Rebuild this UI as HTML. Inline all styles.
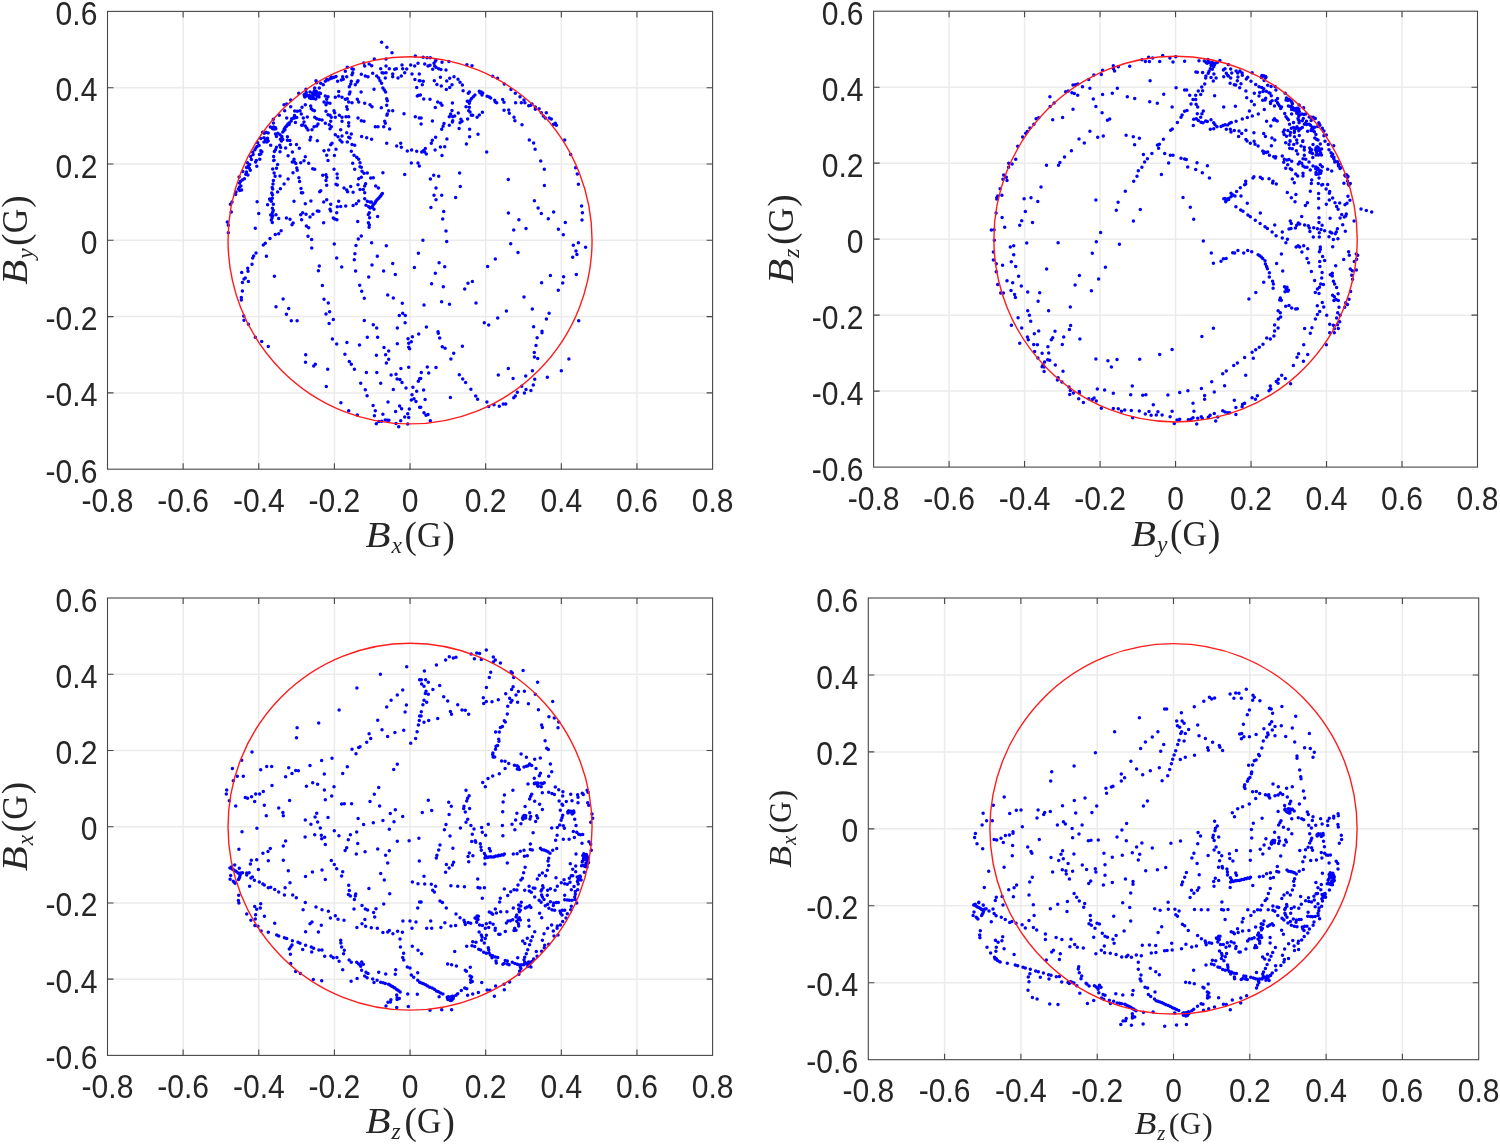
<!DOCTYPE html>
<html><head><meta charset="utf-8"><title>B field scatter</title>
<style>
html,body{margin:0;padding:0;background:#fff;}
svg{display:block;}
.t{font-family:"Liberation Sans",sans-serif;font-size:30.1px;fill:#262626;}
.m{font-family:"Liberation Serif",serif;fill:#262626;}
.g{stroke:#ebebeb;stroke-width:1.5;}
.a{stroke:#474747;stroke-width:1.1;fill:none;}
.c{stroke:#ff1c1c;stroke-width:1.4;fill:none;}
.d{fill:#0000ff;}
</style></head><body>
<svg width="1500" height="1144" viewBox="0 0 1500 1144">
<rect width="1500" height="1144" fill="#fff"/>

<g>
<line class="g" x1="183.14" x2="183.14" y1="11.40" y2="469.20"/>
<line class="g" x1="258.77" x2="258.77" y1="11.40" y2="469.20"/>
<line class="g" x1="334.41" x2="334.41" y1="11.40" y2="469.20"/>
<line class="g" x1="410.05" x2="410.05" y1="11.40" y2="469.20"/>
<line class="g" x1="485.69" x2="485.69" y1="11.40" y2="469.20"/>
<line class="g" x1="561.33" x2="561.33" y1="11.40" y2="469.20"/>
<line class="g" x1="636.96" x2="636.96" y1="11.40" y2="469.20"/>
<line class="g" x1="107.50" x2="712.60" y1="87.70" y2="87.70"/>
<line class="g" x1="107.50" x2="712.60" y1="164.00" y2="164.00"/>
<line class="g" x1="107.50" x2="712.60" y1="240.30" y2="240.30"/>
<line class="g" x1="107.50" x2="712.60" y1="316.60" y2="316.60"/>
<line class="g" x1="107.50" x2="712.60" y1="392.90" y2="392.90"/>
<path d="M381.6 42.3h.01M386.9 47.3h.01M392.0 52.7h.01M386.0 59.1h.01M374.3 59.1h.01M415.3 56.0h.01M363.7 63.1h.01M364.7 66.0h.01M369.1 64.0h.01M371.7 65.7h.01M380.7 68.7h.01M382.0 72.7h.01M386.0 66.0h.01M389.3 68.7h.01M386.0 72.7h.01M383.3 72.9h.01M394.7 69.3h.01M396.3 68.7h.01M402.0 64.9h.01M402.7 68.7h.01M406.7 68.9h.01M404.7 72.7h.01M401.3 76.0h.01M398.0 78.0h.01M392.7 74.0h.01M392.7 76.7h.01M410.7 64.9h.01M414.7 66.0h.01M418.0 63.3h.01M412.0 74.0h.01M419.3 74.0h.01M414.9 79.6h.01M419.3 80.7h.01M416.7 87.6h.01M418.7 95.3h.01M417.3 96.0h.01M376.7 76.0h.01M378.7 78.0h.01M380.0 80.7h.01M381.6 83.3h.01M382.9 88.0h.01M384.3 90.0h.01M385.6 92.0h.01M386.7 98.7h.01M387.3 100.7h.01M386.7 105.3h.01M388.7 110.7h.01M392.7 110.7h.01M387.3 114.0h.01M386.9 115.3h.01M384.7 121.3h.01M385.3 123.3h.01M383.7 126.7h.01M389.6 128.9h.01M375.3 126.7h.01M378.0 126.7h.01M381.3 107.7h.01M374.0 89.3h.01M372.7 73.3h.01M385.3 78.0h.01M361.3 74.3h.01M365.3 76.0h.01M368.0 76.7h.01M347.3 67.3h.01M345.3 71.3h.01M352.0 68.7h.01M353.3 69.3h.01M352.7 72.7h.01M352.0 74.7h.01M346.7 76.7h.01M342.7 76.7h.01M316.0 80.7h.01M316.7 82.7h.01M325.3 81.3h.01M328.0 80.0h.01M330.0 78.7h.01M332.0 78.0h.01M334.0 77.3h.01M336.0 76.4h.01M326.7 79.6h.01M331.3 76.9h.01M337.6 81.3h.01M341.3 80.0h.01M343.3 79.3h.01M351.3 81.3h.01M350.7 84.0h.01M349.3 86.7h.01M355.3 84.7h.01M357.3 82.0h.01M358.0 80.7h.01M314.7 88.0h.01M319.3 88.0h.01M320.7 83.3h.01M323.3 84.7h.01M310.0 91.9h.01M316.2 91.2h.01M314.0 93.8h.01M304.8 95.1h.01M304.5 94.5h.01M311.9 98.0h.01M306.1 92.6h.01M315.8 99.1h.01M314.8 94.1h.01M320.2 93.2h.01M309.7 97.9h.01M307.2 95.8h.01M316.0 93.9h.01M314.3 91.1h.01M316.8 94.4h.01M309.8 95.8h.01M312.4 93.3h.01M319.0 96.9h.01M308.4 95.7h.01M313.8 98.5h.01M317.7 93.1h.01M311.8 97.4h.01M306.7 95.0h.01M304.5 96.6h.01M318.4 95.7h.01M320.5 93.4h.01M317.1 95.9h.01M314.9 94.7h.01M312.8 96.6h.01M304.9 96.9h.01M319.5 93.1h.01M311.1 96.6h.01M304.2 94.7h.01M306.2 92.8h.01M311.2 98.4h.01M305.3 94.6h.01M298.7 93.3h.01M306.0 89.3h.01M338.7 91.6h.01M335.3 97.3h.01M338.7 96.0h.01M342.0 97.3h.01M345.3 99.3h.01M347.3 98.7h.01M348.7 102.0h.01M352.0 102.7h.01M350.0 92.0h.01M349.3 94.0h.01M361.1 92.0h.01M357.3 99.3h.01M358.7 102.0h.01M364.7 103.3h.01M370.0 104.7h.01M372.0 106.7h.01M324.0 102.0h.01M326.0 104.7h.01M327.3 102.7h.01M330.0 103.3h.01M326.7 99.3h.01M328.0 96.7h.01M325.3 96.0h.01M290.7 100.0h.01M284.0 104.7h.01M286.7 104.0h.01M290.7 106.7h.01M284.7 110.7h.01M305.3 104.7h.01M302.0 107.3h.01M300.0 110.7h.01M297.3 111.3h.01M294.7 111.1h.01M301.3 114.0h.01M310.7 106.0h.01M311.3 108.7h.01M312.7 110.0h.01M314.4 110.7h.01M326.0 111.3h.01M334.0 110.7h.01M334.7 112.7h.01M328.0 114.7h.01M330.0 115.3h.01M331.3 117.3h.01M335.3 117.3h.01M330.7 121.3h.01M329.3 124.7h.01M331.3 126.7h.01M330.0 128.7h.01M325.3 123.3h.01M346.7 106.7h.01M347.3 109.3h.01M339.3 115.3h.01M342.0 117.3h.01M346.0 116.7h.01M348.7 116.7h.01M342.0 121.3h.01M348.7 122.7h.01M348.7 126.0h.01M358.0 118.0h.01M361.3 120.7h.01M364.0 121.3h.01M307.3 116.9h.01M314.7 117.3h.01M316.7 118.7h.01M319.3 119.6h.01M322.0 120.0h.01M318.0 124.0h.01M316.7 126.0h.01M314.0 126.7h.01M312.0 129.7h.01M308.0 130.0h.01M306.7 128.0h.01M305.3 126.0h.01M302.7 124.9h.01M304.0 122.0h.01M303.3 118.0h.01M296.7 117.4h.01M294.5 118.1h.01M291.7 118.8h.01M294.5 115.4h.01M293.0 118.2h.01M286.7 118.0h.01M279.3 115.3h.01M273.3 119.3h.01M310.7 137.3h.01M310.0 140.0h.01M317.3 140.7h.01M340.7 129.7h.01M346.7 132.7h.01M351.3 134.0h.01M335.3 134.7h.01M338.0 136.7h.01M342.0 136.0h.01M348.7 137.3h.01M350.0 138.0h.01M340.0 140.0h.01M342.0 142.0h.01M347.3 142.0h.01M332.0 143.3h.01M330.7 144.7h.01M352.0 144.4h.01M354.7 145.3h.01M361.6 136.4h.01M366.7 137.7h.01M371.6 139.3h.01M324.0 150.7h.01M328.7 150.0h.01M336.0 149.3h.01M326.7 155.3h.01M334.4 155.6h.01M328.0 160.4h.01M351.3 151.3h.01M354.0 155.3h.01M356.7 157.3h.01M358.7 159.3h.01M360.0 162.7h.01M352.7 163.3h.01M360.0 166.7h.01M361.3 167.3h.01M354.7 169.3h.01M362.0 171.3h.01M364.0 173.3h.01M367.3 172.9h.01M361.3 177.3h.01M358.7 178.7h.01M370.7 178.0h.01M373.3 177.7h.01M305.3 156.7h.01M304.0 160.7h.01M308.7 163.3h.01M312.7 168.7h.01M314.7 169.3h.01M334.0 169.3h.01M322.7 175.3h.01M326.0 174.7h.01M326.7 177.3h.01M337.1 174.0h.01M337.3 178.0h.01M326.0 180.4h.01M386.7 143.3h.01M396.7 146.0h.01M400.7 143.3h.01M401.3 147.3h.01M407.3 151.1h.01M411.6 150.0h.01M416.7 151.3h.01M411.3 162.9h.01M418.0 162.9h.01M419.3 166.0h.01M404.7 174.4h.01M382.9 172.7h.01M404.0 113.7h.01M415.3 116.7h.01M419.3 118.0h.01M423.1 57.3h.01M427.1 57.7h.01M430.3 57.7h.01M436.0 60.0h.01M442.0 62.3h.01M448.9 61.6h.01M466.9 64.7h.01M472.0 65.7h.01M424.7 64.0h.01M428.0 66.0h.01M430.0 65.3h.01M434.0 63.3h.01M435.3 61.3h.01M434.7 66.0h.01M432.7 69.3h.01M436.0 67.3h.01M438.7 68.7h.01M440.9 69.5h.01M446.0 70.0h.01M420.0 80.7h.01M423.3 81.3h.01M422.3 84.7h.01M434.3 80.7h.01M436.9 84.4h.01M440.4 77.3h.01M441.3 86.0h.01M446.7 80.9h.01M449.7 78.3h.01M454.0 76.7h.01M458.0 79.3h.01M460.0 82.3h.01M462.4 84.9h.01M452.0 84.7h.01M449.7 87.6h.01M446.3 89.6h.01M463.1 90.7h.01M468.3 93.3h.01M469.3 92.0h.01M474.9 94.9h.01M473.3 96.7h.01M471.3 98.7h.01M470.0 100.7h.01M467.3 101.3h.01M469.3 103.3h.01M466.0 106.7h.01M469.3 107.3h.01M468.7 110.7h.01M470.0 112.0h.01M471.3 115.3h.01M472.7 115.3h.01M479.3 91.3h.01M481.3 92.0h.01M482.7 92.9h.01M482.0 95.1h.01M480.0 92.7h.01M487.1 96.3h.01M489.3 97.1h.01M490.7 98.0h.01M494.7 100.3h.01M495.3 102.0h.01M496.7 102.7h.01M502.7 99.6h.01M504.0 102.3h.01M504.0 110.3h.01M508.7 110.0h.01M509.3 113.3h.01M514.0 117.3h.01M514.9 120.7h.01M522.0 124.7h.01M492.7 76.3h.01M497.6 78.3h.01M504.3 84.0h.01M510.9 89.6h.01M515.3 93.3h.01M520.0 96.7h.01M524.0 100.0h.01M524.9 102.7h.01M521.3 102.7h.01M515.6 102.7h.01M528.7 105.7h.01M530.7 105.3h.01M532.0 104.0h.01M535.3 107.1h.01M535.3 109.3h.01M539.1 108.7h.01M541.3 112.7h.01M546.3 112.7h.01M543.3 116.0h.01M545.3 118.0h.01M549.3 118.0h.01M551.3 119.1h.01M553.3 124.4h.01M555.3 123.3h.01M556.4 125.3h.01M564.7 140.0h.01M570.7 154.4h.01M575.6 167.7h.01M577.3 174.0h.01M529.3 140.0h.01M533.6 143.1h.01M535.1 149.3h.01M540.7 161.1h.01M544.3 169.3h.01M508.3 179.6h.01M486.7 152.0h.01M478.0 134.3h.01M469.6 129.3h.01M469.6 136.7h.01M466.4 144.0h.01M459.1 128.4h.01M482.4 112.3h.01M479.3 114.9h.01M477.1 117.3h.01M452.4 103.1h.01M452.0 110.4h.01M458.3 112.9h.01M450.7 114.0h.01M449.3 116.7h.01M452.7 116.7h.01M454.7 116.0h.01M452.7 120.7h.01M452.4 122.0h.01M449.3 125.3h.01M460.9 119.3h.01M462.0 121.3h.01M460.0 122.7h.01M467.6 119.1h.01M437.7 102.0h.01M440.7 103.3h.01M442.0 105.3h.01M435.3 107.6h.01M420.4 94.9h.01M423.7 99.1h.01M430.0 99.3h.01M421.1 118.0h.01M421.1 124.0h.01M432.4 121.1h.01M444.0 123.6h.01M443.1 126.3h.01M441.7 129.3h.01M435.6 137.3h.01M432.3 140.3h.01M431.3 143.3h.01M446.9 139.1h.01M440.4 147.1h.01M444.7 146.7h.01M435.1 150.0h.01M442.0 155.6h.01M425.3 148.4h.01M423.3 150.7h.01M421.7 152.0h.01M424.7 152.0h.01M426.3 154.0h.01M433.7 175.3h.01M438.7 176.3h.01M430.4 179.1h.01M459.6 173.1h.01M232.0 202.0h.01M230.4 204.3h.01M231.3 212.0h.01M227.3 222.0h.01M228.3 225.3h.01M228.3 232.7h.01M257.1 201.7h.01M258.7 213.6h.01M255.3 228.3h.01M270.0 200.0h.01M271.3 201.3h.01M273.3 204.3h.01M267.6 204.7h.01M272.4 208.3h.01M272.7 212.0h.01M272.0 214.0h.01M272.7 216.0h.01M272.0 218.0h.01M271.3 220.0h.01M272.3 222.4h.01M276.0 214.7h.01M278.7 218.4h.01M270.7 214.9h.01M273.3 210.4h.01M302.7 192.7h.01M294.0 201.3h.01M305.3 203.7h.01M310.9 200.9h.01M320.7 190.7h.01M319.7 191.7h.01M326.7 185.3h.01M326.7 199.7h.01M323.7 202.0h.01M330.7 204.3h.01M330.0 209.3h.01M330.7 210.9h.01M336.0 184.3h.01M337.3 185.1h.01M344.0 188.0h.01M346.7 190.0h.01M347.6 191.7h.01M350.7 186.4h.01M353.1 192.3h.01M358.0 184.7h.01M360.0 189.6h.01M363.3 189.6h.01M364.7 186.0h.01M365.6 183.7h.01M364.7 192.7h.01M375.7 186.0h.01M378.4 188.0h.01M382.4 193.4h.01M381.5 194.6h.01M380.8 195.7h.01M380.1 196.4h.01M379.0 197.9h.01M378.3 198.5h.01M377.1 199.8h.01M376.2 200.7h.01M375.4 202.0h.01M374.9 203.2h.01M373.7 204.2h.01M373.1 205.0h.01M372.4 206.5h.01M371.2 207.6h.01M364.7 198.7h.01M367.3 201.3h.01M370.0 202.0h.01M371.3 202.0h.01M366.0 205.3h.01M368.7 206.7h.01M370.0 208.0h.01M374.0 209.3h.01M369.3 212.7h.01M368.3 214.4h.01M369.6 217.7h.01M377.6 216.4h.01M368.4 222.7h.01M369.3 224.7h.01M369.1 227.3h.01M358.7 201.1h.01M356.3 203.7h.01M353.1 205.6h.01M345.7 206.0h.01M340.7 206.4h.01M337.3 206.7h.01M338.7 201.3h.01M336.7 212.7h.01M333.3 218.0h.01M334.7 218.9h.01M336.9 219.7h.01M323.6 222.7h.01M317.3 210.9h.01M318.9 211.3h.01M312.9 214.3h.01M310.0 217.1h.01M306.0 214.3h.01M302.7 212.7h.01M300.7 214.7h.01M301.6 219.7h.01M286.4 218.0h.01M290.0 219.3h.01M293.1 222.9h.01M292.0 224.7h.01M306.4 226.0h.01M308.7 227.7h.01M308.0 236.3h.01M311.6 239.6h.01M311.7 248.0h.01M281.1 230.7h.01M278.7 233.7h.01M275.3 234.4h.01M270.0 238.4h.01M265.3 243.3h.01M263.3 244.9h.01M256.0 252.9h.01M253.6 256.0h.01M252.7 258.0h.01M252.0 264.3h.01M247.7 268.3h.01M248.0 271.3h.01M241.7 272.4h.01M245.3 278.0h.01M244.0 279.1h.01M242.4 282.4h.01M248.4 281.6h.01M242.4 290.9h.01M241.3 297.6h.01M241.3 300.0h.01M266.4 256.3h.01M274.4 276.3h.01M361.3 236.0h.01M358.3 238.9h.01M356.0 245.6h.01M354.9 253.7h.01M354.3 259.7h.01M355.6 270.9h.01M357.7 221.6h.01M334.3 244.0h.01M336.7 258.0h.01M341.7 267.1h.01M371.6 242.7h.01M386.3 245.7h.01M377.3 256.3h.01M372.0 264.9h.01M392.7 263.6h.01M383.6 270.9h.01M395.3 274.4h.01M368.7 276.9h.01M418.4 253.3h.01M414.4 267.6h.01M319.3 266.0h.01M318.4 270.7h.01M322.4 285.6h.01M324.0 299.3h.01M328.3 303.1h.01M329.6 311.7h.01M326.0 314.0h.01M333.3 319.6h.01M329.1 323.6h.01M359.7 285.3h.01M361.7 291.3h.01M364.3 298.3h.01M387.7 294.9h.01M393.3 298.0h.01M402.3 303.3h.01M402.7 313.3h.01M399.3 315.6h.01M405.3 315.6h.01M405.1 322.7h.01M397.3 328.0h.01M364.3 320.4h.01M373.3 324.7h.01M376.7 328.0h.01M283.1 299.1h.01M276.0 306.7h.01M288.7 308.4h.01M286.4 314.3h.01M291.3 320.7h.01M297.1 320.7h.01M243.7 316.0h.01M244.0 320.3h.01M248.4 324.3h.01M436.0 188.0h.01M460.3 186.4h.01M434.0 195.3h.01M441.7 195.3h.01M436.0 199.7h.01M455.6 197.6h.01M430.9 207.6h.01M443.7 211.6h.01M442.7 218.9h.01M446.0 230.9h.01M446.7 241.6h.01M422.9 240.3h.01M544.4 185.6h.01M578.4 184.3h.01M534.4 200.7h.01M538.1 208.0h.01M541.3 213.6h.01M553.6 212.0h.01M548.3 218.7h.01M565.3 222.4h.01M558.4 229.3h.01M563.3 234.7h.01M581.6 206.0h.01M582.4 212.7h.01M582.0 220.0h.01M508.4 212.9h.01M518.9 219.7h.01M513.7 229.9h.01M526.0 228.5h.01M510.7 243.7h.01M518.0 252.4h.01M495.3 258.9h.01M487.6 266.4h.01M578.4 242.7h.01M573.3 245.3h.01M585.6 247.3h.01M576.0 250.9h.01M576.9 254.4h.01M572.7 257.3h.01M576.3 274.4h.01M550.4 275.6h.01M563.6 276.7h.01M562.7 282.9h.01M541.6 282.7h.01M558.3 290.3h.01M524.0 296.9h.01M532.3 309.1h.01M549.1 313.3h.01M546.4 318.9h.01M533.6 326.7h.01M542.0 331.3h.01M578.7 320.7h.01M506.4 311.1h.01M497.7 318.0h.01M484.3 322.7h.01M488.7 325.1h.01M439.1 262.7h.01M444.7 266.7h.01M435.3 273.3h.01M431.6 283.7h.01M443.3 286.7h.01M464.7 289.1h.01M468.0 283.3h.01M472.4 281.6h.01M476.0 303.1h.01M441.6 301.7h.01M449.5 304.3h.01M424.0 305.1h.01M426.4 326.9h.01M438.0 331.7h.01M255.3 337.3h.01M261.7 341.6h.01M268.3 346.4h.01M305.7 354.7h.01M305.5 362.3h.01M315.3 364.3h.01M313.7 366.0h.01M327.7 369.3h.01M326.3 386.4h.01M332.4 339.1h.01M336.7 344.0h.01M346.9 342.4h.01M359.5 344.9h.01M367.3 337.3h.01M377.6 337.3h.01M344.9 354.3h.01M349.3 361.6h.01M351.3 364.3h.01M354.4 369.3h.01M366.4 372.4h.01M376.8 372.4h.01M376.4 355.3h.01M384.0 347.6h.01M388.7 351.1h.01M385.6 354.7h.01M388.7 359.3h.01M386.4 363.1h.01M397.3 343.7h.01M408.0 338.7h.01M412.4 336.7h.01M418.7 334.0h.01M408.7 343.3h.01M411.3 341.7h.01M408.7 347.3h.01M409.6 348.7h.01M400.9 368.4h.01M408.7 367.3h.01M391.1 374.9h.01M396.0 374.3h.01M397.1 379.1h.01M400.0 379.6h.01M402.0 382.4h.01M406.0 388.0h.01M393.3 389.6h.01M412.9 387.3h.01M416.7 391.3h.01M418.3 381.3h.01M419.6 378.7h.01M360.7 383.3h.01M365.3 389.7h.01M367.1 395.7h.01M380.7 383.3h.01M412.0 394.7h.01M411.3 400.0h.01M414.0 398.7h.01M416.0 401.6h.01M419.6 407.3h.01M388.0 402.0h.01M373.1 405.6h.01M375.3 410.7h.01M374.4 415.7h.01M382.9 414.3h.01M395.6 411.6h.01M399.6 406.0h.01M401.6 408.7h.01M409.3 409.1h.01M407.7 413.7h.01M404.7 416.9h.01M408.7 417.6h.01M400.7 420.7h.01M340.9 402.7h.01M348.7 410.7h.01M357.3 415.1h.01M376.3 423.7h.01M378.9 421.6h.01M381.7 421.3h.01M385.3 420.0h.01M387.3 420.3h.01M388.9 420.3h.01M396.0 423.6h.01M398.7 426.7h.01M407.7 424.0h.01M438.3 333.3h.01M439.7 338.0h.01M442.3 346.7h.01M445.1 348.3h.01M462.4 346.3h.01M453.7 353.3h.01M450.9 359.1h.01M427.3 366.9h.01M436.0 367.6h.01M428.7 373.1h.01M421.3 372.4h.01M420.7 378.4h.01M423.6 390.1h.01M425.1 399.6h.01M420.7 407.3h.01M424.0 412.7h.01M426.0 415.3h.01M428.0 414.4h.01M430.3 420.7h.01M459.3 374.7h.01M462.7 379.1h.01M465.6 382.4h.01M470.9 389.3h.01M475.7 396.0h.01M477.6 399.3h.01M450.4 397.6h.01M486.9 402.0h.01M488.7 406.4h.01M494.0 404.7h.01M499.3 406.3h.01M503.3 404.0h.01M505.7 404.0h.01M498.3 375.1h.01M508.3 368.4h.01M513.1 378.4h.01M513.7 397.7h.01M515.3 396.0h.01M517.3 392.3h.01M521.7 386.3h.01M524.4 393.1h.01M526.0 389.6h.01M530.9 390.4h.01M533.3 384.9h.01M534.7 379.3h.01M525.7 376.0h.01M532.4 370.7h.01M542.0 332.7h.01M537.1 337.7h.01M536.0 345.5h.01M534.3 352.4h.01M534.4 357.1h.01M537.7 358.4h.01M547.3 377.3h.01M561.3 370.7h.01M568.9 359.1h.01M273.4 123.1h.01M295.4 122.4h.01M301.7 125.2h.01M270.3 127.0h.01M272.0 127.7h.01M273.7 127.0h.01M275.5 127.7h.01M274.4 129.1h.01M275.8 128.7h.01M272.7 128.7h.01M291.2 121.0h.01M289.5 122.8h.01M288.1 123.8h.01M287.0 125.6h.01M285.3 127.3h.01M284.2 129.1h.01M283.9 130.8h.01M282.8 131.9h.01M289.1 124.5h.01M286.3 126.6h.01M284.9 129.8h.01M277.9 133.3h.01M275.5 134.0h.01M276.5 136.4h.01M280.0 134.7h.01M281.8 136.4h.01M282.1 138.5h.01M280.4 139.2h.01M281.4 141.0h.01M282.8 139.6h.01M262.6 132.2h.01M264.3 133.3h.01M266.1 132.2h.01M268.2 132.9h.01M260.8 138.5h.01M264.0 137.8h.01M267.5 138.2h.01M265.7 139.9h.01M264.0 142.0h.01M266.8 142.0h.01M268.2 141.0h.01M270.7 145.2h.01M287.4 136.8h.01M287.4 140.3h.01M289.8 140.6h.01M290.5 144.5h.01M296.5 144.5h.01M299.3 148.3h.01M285.6 148.0h.01M292.4 152.0h.01M288.1 155.7h.01M279.7 145.2h.01M280.7 147.6h.01M276.5 147.3h.01M275.5 149.7h.01M274.4 151.5h.01M280.0 151.8h.01M273.6 156.4h.01M274.1 160.2h.01M273.7 160.6h.01M277.6 164.4h.01M276.5 168.3h.01M272.7 169.0h.01M274.1 173.1h.01M275.1 176.3h.01M280.0 175.9h.01M273.4 180.5h.01M273.0 184.0h.01M272.2 187.5h.01M272.7 188.9h.01M271.7 193.1h.01M272.5 194.8h.01M272.3 198.3h.01M269.6 199.0h.01M294.0 159.2h.01M292.3 162.0h.01M294.7 162.3h.01M295.8 163.4h.01M300.7 162.7h.01M296.8 167.9h.01M297.2 170.3h.01M293.0 172.8h.01M298.9 177.7h.01M299.6 181.5h.01M288.1 179.1h.01M284.1 184.0h.01M280.4 188.7h.01M277.6 192.0h.01M301.0 188.5h.01M301.4 192.7h.01M257.7 142.7h.01M259.1 145.5h.01M257.0 146.6h.01M255.9 148.0h.01M254.9 149.7h.01M252.8 152.2h.01M253.1 154.6h.01M250.7 156.4h.01M251.4 159.5h.01M260.8 150.8h.01M261.9 151.8h.01M260.8 153.9h.01M259.4 154.6h.01M259.8 159.2h.01M256.3 160.6h.01M255.6 162.0h.01M256.8 166.2h.01M247.5 162.7h.01M249.6 164.4h.01M248.2 166.2h.01M246.5 167.6h.01M249.3 168.3h.01M250.3 170.3h.01M246.5 172.1h.01M245.8 174.2h.01M247.9 174.9h.01M242.8 171.5h.01M239.1 177.0h.01M244.4 178.7h.01M242.3 180.1h.01M240.5 181.5h.01M239.5 182.9h.01M240.9 186.1h.01M239.5 187.1h.01M238.4 188.9h.01M239.8 190.6h.01M241.6 189.9h.01M236.0 192.0h.01M235.6 194.5h.01" stroke="#0000ff" stroke-width="3.5" stroke-linecap="round" fill="none"/>
<ellipse class="c" cx="410.05" cy="240.30" rx="182.02" ry="183.62"/>
<rect class="a" x="107.50" y="11.40" width="605.10" height="457.80"/>
<path class="a" d="M183.14 469.20v-6.0M183.14 11.40v6.0"/>
<path class="a" d="M258.77 469.20v-6.0M258.77 11.40v6.0"/>
<path class="a" d="M334.41 469.20v-6.0M334.41 11.40v6.0"/>
<path class="a" d="M410.05 469.20v-6.0M410.05 11.40v6.0"/>
<path class="a" d="M485.69 469.20v-6.0M485.69 11.40v6.0"/>
<path class="a" d="M561.33 469.20v-6.0M561.33 11.40v6.0"/>
<path class="a" d="M636.96 469.20v-6.0M636.96 11.40v6.0"/>
<path class="a" d="M107.50 87.70h6.0M712.60 87.70h-6.0"/>
<path class="a" d="M107.50 164.00h6.0M712.60 164.00h-6.0"/>
<path class="a" d="M107.50 240.30h6.0M712.60 240.30h-6.0"/>
<path class="a" d="M107.50 316.60h6.0M712.60 316.60h-6.0"/>
<path class="a" d="M107.50 392.90h6.0M712.60 392.90h-6.0"/>
<text class="t" text-anchor="middle" transform="translate(107.5 511.7) scale(1 1.12)">-0.8</text>
<text class="t" text-anchor="middle" transform="translate(183.1 511.7) scale(1 1.12)">-0.6</text>
<text class="t" text-anchor="middle" transform="translate(258.8 511.7) scale(1 1.12)">-0.4</text>
<text class="t" text-anchor="middle" transform="translate(334.4 511.7) scale(1 1.12)">-0.2</text>
<text class="t" text-anchor="middle" transform="translate(410.1 511.7) scale(1 1.12)">0</text>
<text class="t" text-anchor="middle" transform="translate(485.7 511.7) scale(1 1.12)">0.2</text>
<text class="t" text-anchor="middle" transform="translate(561.3 511.7) scale(1 1.12)">0.4</text>
<text class="t" text-anchor="middle" transform="translate(637.0 511.7) scale(1 1.12)">0.6</text>
<text class="t" text-anchor="middle" transform="translate(712.6 511.7) scale(1 1.12)">0.8</text>
<text class="t" text-anchor="end" transform="translate(97.4 24.9) scale(1 1.12)">0.6</text>
<text class="t" text-anchor="end" transform="translate(97.4 101.2) scale(1 1.12)">0.4</text>
<text class="t" text-anchor="end" transform="translate(97.4 177.5) scale(1 1.12)">0.2</text>
<text class="t" text-anchor="end" transform="translate(97.4 253.8) scale(1 1.12)">0</text>
<text class="t" text-anchor="end" transform="translate(97.4 330.1) scale(1 1.12)">-0.2</text>
<text class="t" text-anchor="end" transform="translate(97.4 406.4) scale(1 1.12)">-0.4</text>
<text class="t" text-anchor="end" transform="translate(97.4 482.7) scale(1 1.12)">-0.6</text>
<g transform="translate(410.1 546.9) scale(1.000)"><text class="m" x="-44.5" y="0.0" font-size="35" font-style="italic" textLength="25" lengthAdjust="spacingAndGlyphs">B</text><text class="m" x="-18.5" y="6.0" font-size="23.5" font-style="italic">x</text><text class="m" x="-5.5" y="0.6" font-size="37">(</text><text class="m" x="7.0" y="0.0" font-size="35" textLength="24.5" lengthAdjust="spacingAndGlyphs">G</text><text class="m" x="32.5" y="0.6" font-size="37">)</text></g>
<g transform="translate(27.3 240.3) rotate(-90)"><g transform="translate(0.0 0.0) scale(1.000)"><text class="m" x="-44.5" y="0.0" font-size="35" font-style="italic" textLength="25" lengthAdjust="spacingAndGlyphs">B</text><text class="m" x="-18.5" y="6.0" font-size="23.5" font-style="italic">y</text><text class="m" x="-5.5" y="0.6" font-size="37">(</text><text class="m" x="7.0" y="0.0" font-size="35" textLength="24.5" lengthAdjust="spacingAndGlyphs">G</text><text class="m" x="32.5" y="0.6" font-size="37">)</text></g></g>
</g>
<g>
<line class="g" x1="949.09" x2="949.09" y1="11.20" y2="467.10"/>
<line class="g" x1="1024.58" x2="1024.58" y1="11.20" y2="467.10"/>
<line class="g" x1="1100.06" x2="1100.06" y1="11.20" y2="467.10"/>
<line class="g" x1="1175.55" x2="1175.55" y1="11.20" y2="467.10"/>
<line class="g" x1="1251.04" x2="1251.04" y1="11.20" y2="467.10"/>
<line class="g" x1="1326.53" x2="1326.53" y1="11.20" y2="467.10"/>
<line class="g" x1="1402.01" x2="1402.01" y1="11.20" y2="467.10"/>
<line class="g" x1="873.60" x2="1477.50" y1="87.18" y2="87.18"/>
<line class="g" x1="873.60" x2="1477.50" y1="163.17" y2="163.17"/>
<line class="g" x1="873.60" x2="1477.50" y1="239.15" y2="239.15"/>
<line class="g" x1="873.60" x2="1477.50" y1="315.13" y2="315.13"/>
<line class="g" x1="873.60" x2="1477.50" y1="391.12" y2="391.12"/>
<path d="M1003.7 175.1h.01M1006.3 177.3h.01M1003.0 179.3h.01M1007.0 180.4h.01M1008.7 163.3h.01M1012.1 164.0h.01M1008.6 167.3h.01M1015.7 159.3h.01M1017.7 146.3h.01M1022.6 136.9h.01M1025.7 133.3h.01M1027.3 131.6h.01M1029.9 128.0h.01M1033.9 124.3h.01M1036.1 118.7h.01M1038.7 117.7h.01M1050.1 106.4h.01M1054.1 102.9h.01M1049.9 96.7h.01M1065.7 91.7h.01M1068.3 91.1h.01M1071.9 92.7h.01M1074.3 93.6h.01M1077.7 95.3h.01M1073.0 85.1h.01M1075.4 84.7h.01M1077.9 84.0h.01M1082.5 86.7h.01M1089.9 88.3h.01M1088.7 79.6h.01M1093.9 74.9h.01M1101.3 74.4h.01M1102.6 70.3h.01M1113.3 65.7h.01M1113.4 68.7h.01M1114.6 70.9h.01M1118.3 66.7h.01M1129.7 66.3h.01M1141.9 59.7h.01M1145.4 61.6h.01M1149.4 61.6h.01M1148.6 57.3h.01M1152.6 58.0h.01M1159.7 61.6h.01M1162.7 55.6h.01M1169.9 58.0h.01M1173.0 62.0h.01M1175.7 56.7h.01M1184.6 61.3h.01M1150.1 80.7h.01M1176.1 87.7h.01M1184.6 90.0h.01M1163.7 94.3h.01M1149.7 101.7h.01M1157.3 103.3h.01M1172.1 106.9h.01M1117.3 88.3h.01M1112.3 93.3h.01M1102.6 94.4h.01M1093.3 98.9h.01M1095.9 106.4h.01M1102.1 112.7h.01M1109.7 118.9h.01M1107.4 120.3h.01M1127.3 96.7h.01M1134.7 98.4h.01M1073.0 109.3h.01M1062.6 117.6h.01M1052.7 119.7h.01M1089.9 131.3h.01M1097.7 137.3h.01M1103.3 136.0h.01M1079.0 139.1h.01M1084.3 143.1h.01M1071.4 150.7h.01M1064.5 157.1h.01M1059.9 162.4h.01M1058.5 165.3h.01M1046.5 165.3h.01M1126.1 135.3h.01M1133.3 136.7h.01M1139.4 138.3h.01M1134.6 144.7h.01M1184.6 111.3h.01M1182.1 114.9h.01M1181.0 117.3h.01M1177.4 122.4h.01M1172.3 128.9h.01M1170.7 130.3h.01M1163.4 139.3h.01M1159.4 144.3h.01M1157.4 144.9h.01M1158.6 148.3h.01M1151.9 153.6h.01M1147.4 158.7h.01M1144.6 162.0h.01M1141.9 167.3h.01M1138.3 170.7h.01M1137.0 176.3h.01M1133.7 181.3h.01M1143.4 154.4h.01M1164.7 153.6h.01M1170.3 155.3h.01M1173.0 155.3h.01M1181.0 158.3h.01M1184.6 159.1h.01M1168.6 162.9h.01M1161.4 174.4h.01M1199.0 60.7h.01M1204.3 60.9h.01M1207.9 59.6h.01M1219.9 60.4h.01M1228.3 64.4h.01M1213.7 66.7h.01M1210.3 68.7h.01M1212.3 69.3h.01M1209.0 71.3h.01M1208.3 73.3h.01M1210.8 63.5h.01M1207.1 63.3h.01M1212.6 62.8h.01M1207.6 62.7h.01M1213.2 63.3h.01M1214.3 63.7h.01M1206.2 62.5h.01M1208.8 61.8h.01M1211.1 65.6h.01M1217.3 62.4h.01M1213.4 64.6h.01M1215.2 63.2h.01M1214.4 65.0h.01M1211.6 62.8h.01M1195.9 72.0h.01M1197.3 72.3h.01M1202.6 72.4h.01M1205.9 76.0h.01M1205.7 78.0h.01M1211.0 77.6h.01M1216.1 78.0h.01M1213.3 81.1h.01M1213.9 74.0h.01M1204.7 84.0h.01M1201.7 86.9h.01M1198.3 90.9h.01M1202.6 90.7h.01M1200.7 94.4h.01M1195.7 95.3h.01M1189.7 95.3h.01M1193.0 99.6h.01M1195.7 99.6h.01M1191.0 104.0h.01M1196.1 104.3h.01M1197.7 107.1h.01M1203.3 110.9h.01M1201.9 113.7h.01M1197.3 113.7h.01M1200.7 117.3h.01M1196.3 118.7h.01M1193.7 119.3h.01M1198.3 120.4h.01M1201.0 122.3h.01M1203.0 122.7h.01M1205.7 121.1h.01M1207.3 121.6h.01M1193.3 125.6h.01M1186.6 90.0h.01M1187.0 110.4h.01M1214.6 95.7h.01M1223.7 106.9h.01M1235.4 106.3h.01M1225.0 68.7h.01M1223.4 70.0h.01M1226.3 73.3h.01M1227.7 75.3h.01M1230.7 69.1h.01M1231.7 72.9h.01M1223.7 76.7h.01M1228.3 76.0h.01M1230.7 78.0h.01M1230.1 83.3h.01M1234.3 84.7h.01M1235.7 85.1h.01M1236.1 70.9h.01M1237.7 72.9h.01M1239.9 71.1h.01M1242.1 72.9h.01M1242.3 75.3h.01M1237.9 76.9h.01M1237.3 80.7h.01M1241.0 83.7h.01M1239.7 87.7h.01M1247.7 77.3h.01M1246.3 79.1h.01M1251.0 81.3h.01M1252.1 72.7h.01M1255.7 84.4h.01M1264.1 80.5h.01M1261.9 75.4h.01M1263.9 76.1h.01M1262.3 76.5h.01M1265.6 76.4h.01M1263.7 75.7h.01M1265.4 78.1h.01M1261.3 77.6h.01M1266.0 77.3h.01M1259.0 86.7h.01M1261.7 87.6h.01M1263.7 88.7h.01M1259.7 92.4h.01M1263.0 91.6h.01M1266.3 91.3h.01M1269.0 92.7h.01M1259.0 96.0h.01M1254.3 93.3h.01M1245.9 90.9h.01M1246.7 97.7h.01M1251.4 101.3h.01M1254.3 104.7h.01M1249.4 110.9h.01M1252.3 116.0h.01M1258.3 114.0h.01M1264.3 109.6h.01M1265.7 98.3h.01M1262.7 100.3h.01M1265.0 100.0h.01M1267.7 85.3h.01M1266.6 121.3h.01M1231.3 122.4h.01M1236.1 121.3h.01M1242.3 119.1h.01M1247.3 117.6h.01M1211.0 119.7h.01M1213.7 122.7h.01M1215.0 124.7h.01M1217.0 126.7h.01M1221.0 126.4h.01M1223.0 125.6h.01M1225.0 124.7h.01M1227.7 124.9h.01M1229.7 123.3h.01M1226.3 129.3h.01M1230.3 129.3h.01M1231.0 132.0h.01M1234.3 130.4h.01M1239.0 130.9h.01M1241.7 133.6h.01M1238.6 136.4h.01M1245.9 130.3h.01M1213.7 128.7h.01M1210.3 129.3h.01M1253.9 132.7h.01M1263.7 133.6h.01M1265.4 136.4h.01M1271.4 145.7h.01M1245.9 139.6h.01M1247.0 141.1h.01M1250.3 143.3h.01M1254.1 141.3h.01M1255.0 144.3h.01M1258.1 146.0h.01M1262.7 151.1h.01M1264.3 152.0h.01M1266.3 152.4h.01M1263.7 153.3h.01M1267.7 152.0h.01M1269.4 155.3h.01M1273.7 156.7h.01M1275.4 158.0h.01M1275.7 156.7h.01M1282.3 156.0h.01M1284.3 159.3h.01M1283.7 162.3h.01M1287.0 160.0h.01M1289.0 159.6h.01M1291.7 161.3h.01M1287.7 164.7h.01M1285.7 168.3h.01M1290.3 168.7h.01M1291.7 169.7h.01M1297.0 143.1h.01M1293.7 144.4h.01M1290.1 141.3h.01M1285.7 142.7h.01M1289.0 144.4h.01M1302.7 141.6h.01M1301.0 146.0h.01M1304.3 147.3h.01M1304.3 150.0h.01M1296.3 150.7h.01M1292.3 148.7h.01M1289.7 148.3h.01M1297.7 154.0h.01M1304.3 155.3h.01M1303.0 158.7h.01M1305.7 159.3h.01M1309.0 162.0h.01M1299.7 162.0h.01M1298.3 164.0h.01M1301.7 163.3h.01M1303.0 166.0h.01M1305.0 167.3h.01M1307.0 167.3h.01M1310.3 170.0h.01M1313.0 166.0h.01M1320.3 144.0h.01M1313.0 144.4h.01M1309.7 148.0h.01M1310.7 149.9h.01M1319.4 149.1h.01M1316.3 151.3h.01M1316.1 154.9h.01M1319.9 154.1h.01M1318.2 147.6h.01M1311.6 149.7h.01M1319.6 150.3h.01M1317.2 146.8h.01M1310.5 149.9h.01M1318.6 155.0h.01M1318.7 150.2h.01M1316.6 152.2h.01M1315.9 148.1h.01M1321.6 149.1h.01M1309.9 152.2h.01M1315.7 149.9h.01M1312.5 153.6h.01M1311.6 153.0h.01M1320.6 152.8h.01M1321.5 155.1h.01M1312.8 157.4h.01M1325.0 141.3h.01M1328.3 144.4h.01M1333.7 145.7h.01M1329.0 149.7h.01M1331.0 152.7h.01M1331.7 156.0h.01M1332.7 154.2h.01M1332.2 156.5h.01M1333.9 157.3h.01M1333.8 158.7h.01M1334.9 161.1h.01M1334.8 162.1h.01M1337.5 161.8h.01M1338.4 164.4h.01M1339.1 164.6h.01M1338.5 166.0h.01M1340.8 167.7h.01M1340.0 168.5h.01M1327.7 169.3h.01M1331.7 170.9h.01M1320.3 164.7h.01M1322.3 166.7h.01M1316.0 174.2h.01M1315.7 168.8h.01M1317.8 168.2h.01M1316.7 174.3h.01M1320.7 173.2h.01M1318.7 174.0h.01M1321.2 171.1h.01M1319.5 170.3h.01M1319.7 171.8h.01M1316.0 167.1h.01M1317.4 169.4h.01M1316.0 172.6h.01M1348.0 176.4h.01M1347.4 177.2h.01M1344.8 175.3h.01M1347.0 175.8h.01M1346.7 175.1h.01M1345.9 174.7h.01M1345.3 176.1h.01M1347.5 181.1h.01M1295.7 174.0h.01M1297.7 176.0h.01M1303.0 173.3h.01M1303.0 176.0h.01M1292.3 179.1h.01M1311.7 180.0h.01M1319.0 178.0h.01M1253.9 176.7h.01M1253.0 178.0h.01M1260.3 177.3h.01M1262.3 178.7h.01M1269.0 178.7h.01M1245.7 181.3h.01M1273.0 181.3h.01M1186.3 159.6h.01M1197.0 162.7h.01M1187.7 167.1h.01M1195.7 169.6h.01M1207.4 165.7h.01M1202.3 172.7h.01M1209.4 178.0h.01M1000.1 188.7h.01M1001.9 195.3h.01M997.7 196.0h.01M996.7 197.7h.01M996.7 199.1h.01M996.1 212.9h.01M1002.1 217.6h.01M1004.7 227.3h.01M991.3 230.0h.01M994.1 229.7h.01M994.3 240.3h.01M993.4 252.0h.01M993.4 260.0h.01M996.3 263.7h.01M1002.6 265.3h.01M996.3 271.7h.01M997.7 284.4h.01M1000.7 292.9h.01M1003.4 293.1h.01M1041.0 187.1h.01M1024.1 198.7h.01M1031.0 197.7h.01M1037.8 201.5h.01M1025.3 211.5h.01M1021.7 220.7h.01M1019.7 225.3h.01M1032.5 222.4h.01M1010.3 246.9h.01M1013.7 245.7h.01M1013.7 254.7h.01M1011.3 261.7h.01M1015.7 266.4h.01M1026.7 243.1h.01M1058.1 242.8h.01M1046.6 269.1h.01M1018.6 276.3h.01M1007.0 280.7h.01M1012.7 282.7h.01M1021.3 286.0h.01M1011.0 290.4h.01M1014.6 294.4h.01M1015.4 297.6h.01M1027.7 292.0h.01M1039.7 292.7h.01M1038.1 301.3h.01M1027.7 310.7h.01M1029.4 315.3h.01M1030.7 321.3h.01M1018.1 317.7h.01M1011.4 325.3h.01M1021.7 328.0h.01M1038.7 330.9h.01M1034.3 333.7h.01M1048.6 310.8h.01M1055.0 331.3h.01M1070.3 307.1h.01M1070.6 325.6h.01M1069.4 329.6h.01M1095.9 200.0h.01M1125.3 191.3h.01M1118.1 202.3h.01M1116.3 210.3h.01M1140.3 209.6h.01M1133.4 221.1h.01M1183.0 197.6h.01M1100.6 232.4h.01M1096.3 241.7h.01M1119.4 244.3h.01M1092.3 253.3h.01M1105.4 267.3h.01M1098.6 278.9h.01M1091.4 290.7h.01M1079.4 275.6h.01M1075.1 284.9h.01M1245.7 184.0h.01M1244.6 184.7h.01M1240.3 187.7h.01M1236.6 191.6h.01M1231.0 193.3h.01M1233.0 195.1h.01M1235.0 196.0h.01M1241.0 196.0h.01M1231.0 196.7h.01M1227.8 199.3h.01M1225.8 199.8h.01M1225.6 199.0h.01M1223.8 198.7h.01M1226.4 200.4h.01M1228.5 198.4h.01M1225.0 198.5h.01M1225.7 199.5h.01M1228.7 199.6h.01M1225.7 201.8h.01M1247.3 203.3h.01M1235.9 206.7h.01M1240.7 210.0h.01M1243.0 211.3h.01M1247.9 214.9h.01M1250.3 216.7h.01M1255.3 220.3h.01M1260.1 223.6h.01M1265.0 226.7h.01M1267.4 228.4h.01M1272.1 232.0h.01M1276.1 235.7h.01M1282.3 238.0h.01M1287.4 239.3h.01M1285.9 242.7h.01M1282.3 232.0h.01M1274.7 224.9h.01M1260.3 212.9h.01M1190.3 207.3h.01M1193.7 219.3h.01M1203.3 241.1h.01M1211.3 252.9h.01M1213.4 263.3h.01M1221.0 261.3h.01M1223.4 258.7h.01M1226.1 258.4h.01M1232.7 252.7h.01M1234.6 253.1h.01M1237.9 250.4h.01M1243.7 252.9h.01M1247.7 250.4h.01M1251.7 251.7h.01M1258.1 254.7h.01M1259.7 255.7h.01M1261.3 257.1h.01M1262.7 258.4h.01M1265.0 260.7h.01M1265.4 264.0h.01M1266.6 266.4h.01M1267.4 268.7h.01M1269.4 272.7h.01M1269.3 276.9h.01M1272.6 281.3h.01M1273.4 284.0h.01M1273.1 288.3h.01M1263.7 282.3h.01M1255.8 292.5h.01M1248.9 298.9h.01M1281.4 254.0h.01M1276.6 263.6h.01M1282.7 270.9h.01M1272.6 183.1h.01M1276.3 184.0h.01M1294.3 182.7h.01M1311.3 183.6h.01M1318.3 183.6h.01M1321.7 184.9h.01M1322.7 184.4h.01M1327.7 184.4h.01M1326.1 188.9h.01M1329.7 191.6h.01M1329.3 193.3h.01M1332.6 198.0h.01M1329.3 200.0h.01M1326.3 204.3h.01M1343.9 183.3h.01M1348.3 184.0h.01M1350.3 183.6h.01M1349.0 185.3h.01M1287.3 192.4h.01M1291.3 197.7h.01M1295.9 194.4h.01M1295.0 201.7h.01M1310.3 191.3h.01M1307.4 202.7h.01M1305.4 205.6h.01M1318.6 193.6h.01M1318.6 198.4h.01M1318.7 208.0h.01M1319.0 217.7h.01M1319.0 222.4h.01M1322.1 225.3h.01M1347.9 196.3h.01M1349.9 200.3h.01M1347.0 203.3h.01M1345.0 204.7h.01M1339.7 202.9h.01M1335.0 202.7h.01M1336.6 206.4h.01M1338.1 209.3h.01M1361.0 209.1h.01M1366.3 210.4h.01M1371.7 212.0h.01M1341.7 214.4h.01M1346.3 214.0h.01M1345.7 216.0h.01M1344.3 216.9h.01M1340.1 218.0h.01M1330.1 218.3h.01M1354.1 221.1h.01M1342.7 224.7h.01M1337.4 228.7h.01M1336.3 232.0h.01M1335.3 233.7h.01M1345.3 231.3h.01M1301.7 216.4h.01M1290.3 221.1h.01M1291.3 223.6h.01M1298.3 223.1h.01M1299.7 224.0h.01M1296.7 225.3h.01M1295.4 228.0h.01M1291.0 228.4h.01M1289.0 229.1h.01M1304.6 224.9h.01M1308.3 225.7h.01M1309.3 228.0h.01M1309.9 231.6h.01M1313.7 227.7h.01M1317.4 228.7h.01M1321.0 229.6h.01M1324.6 230.7h.01M1319.3 232.7h.01M1330.1 232.0h.01M1331.7 233.1h.01M1329.0 236.7h.01M1333.4 239.6h.01M1337.9 238.7h.01M1319.3 237.1h.01M1313.3 236.9h.01M1332.7 246.7h.01M1320.3 246.9h.01M1320.3 249.3h.01M1319.4 251.7h.01M1322.6 256.4h.01M1324.6 260.4h.01M1319.7 261.6h.01M1319.9 266.4h.01M1322.1 272.4h.01M1321.7 278.0h.01M1320.7 284.0h.01M1323.4 284.4h.01M1319.4 287.3h.01M1317.4 289.1h.01M1315.3 292.4h.01M1319.0 293.6h.01M1311.4 271.6h.01M1314.6 280.4h.01M1296.1 246.9h.01M1298.1 245.7h.01M1299.7 246.9h.01M1303.7 245.7h.01M1307.7 248.7h.01M1301.9 252.0h.01M1307.0 258.4h.01M1308.6 262.7h.01M1348.6 251.7h.01M1349.3 255.3h.01M1343.7 259.6h.01M1335.7 265.7h.01M1356.3 254.0h.01M1357.7 255.3h.01M1356.6 259.3h.01M1354.3 261.6h.01M1350.3 269.1h.01M1352.3 270.7h.01M1356.3 270.0h.01M1351.7 275.3h.01M1352.6 279.3h.01M1350.6 291.6h.01M1349.0 299.3h.01M1347.4 304.4h.01M1345.7 302.7h.01M1344.7 307.3h.01M1330.3 274.7h.01M1332.3 273.3h.01M1332.3 276.0h.01M1333.4 281.3h.01M1334.6 284.0h.01M1336.6 287.6h.01M1338.1 293.7h.01M1332.6 295.3h.01M1334.3 296.7h.01M1333.9 300.4h.01M1336.1 299.6h.01M1338.3 300.4h.01M1339.0 307.3h.01M1337.7 312.7h.01M1340.1 315.3h.01M1336.6 318.0h.01M1339.7 321.7h.01M1329.7 324.3h.01M1333.4 325.3h.01M1337.4 324.7h.01M1334.3 328.7h.01M1338.3 328.4h.01M1329.7 332.7h.01M1334.3 332.7h.01M1322.3 302.4h.01M1317.3 305.7h.01M1323.7 306.9h.01M1319.7 311.6h.01M1317.4 314.4h.01M1315.4 319.1h.01M1326.7 315.3h.01M1311.9 327.7h.01M1304.6 328.4h.01M1310.3 333.3h.01M1287.9 291.3h.01M1286.4 290.0h.01M1288.5 290.3h.01M1287.0 290.6h.01M1286.1 289.1h.01M1285.0 291.8h.01M1287.0 287.2h.01M1284.5 286.8h.01M1287.0 290.1h.01M1280.3 298.0h.01M1279.7 300.0h.01M1281.3 300.3h.01M1285.7 306.3h.01M1289.0 305.6h.01M1291.7 308.0h.01M1295.7 309.1h.01M1297.3 308.7h.01M1278.1 310.7h.01M1280.3 312.7h.01M1280.7 316.9h.01M1278.3 318.9h.01M1274.6 325.1h.01M1278.1 328.0h.01M1274.6 331.1h.01M1213.4 328.3h.01M1027.4 337.1h.01M1028.3 339.7h.01M1019.7 343.3h.01M1033.7 344.4h.01M1037.4 344.7h.01M1034.6 351.6h.01M1037.9 358.0h.01M1042.1 353.3h.01M1047.9 346.7h.01M1048.7 352.9h.01M1051.3 339.7h.01M1052.7 337.7h.01M1063.7 336.9h.01M1062.3 344.4h.01M1079.9 339.1h.01M1044.6 362.0h.01M1047.7 359.7h.01M1049.7 360.3h.01M1043.0 364.9h.01M1042.1 366.7h.01M1044.1 366.9h.01M1044.1 371.6h.01M1055.3 364.9h.01M1063.0 371.3h.01M1058.1 377.7h.01M1057.4 380.0h.01M1061.9 382.0h.01M1069.0 386.9h.01M1070.3 390.4h.01M1069.7 394.4h.01M1073.4 393.1h.01M1079.3 391.6h.01M1079.4 393.1h.01M1078.7 398.7h.01M1083.4 402.4h.01M1088.7 398.7h.01M1092.3 399.6h.01M1094.1 398.0h.01M1096.3 401.1h.01M1101.3 408.3h.01M1095.9 359.1h.01M1107.9 360.7h.01M1111.4 367.1h.01M1117.0 359.6h.01M1139.7 359.3h.01M1159.7 354.4h.01M1172.1 349.6h.01M1097.3 389.1h.01M1104.6 390.0h.01M1113.3 393.3h.01M1132.3 386.0h.01M1130.7 394.7h.01M1142.7 395.3h.01M1145.9 394.8h.01M1167.9 395.1h.01M1179.7 392.4h.01M1153.3 404.7h.01M1113.3 408.4h.01M1118.3 408.7h.01M1121.4 411.3h.01M1124.7 410.0h.01M1131.3 410.4h.01M1139.3 410.9h.01M1132.7 417.7h.01M1145.3 414.0h.01M1149.0 411.6h.01M1151.1 415.3h.01M1156.3 415.1h.01M1157.9 411.7h.01M1162.1 414.9h.01M1170.1 416.7h.01M1172.1 411.3h.01M1177.0 420.0h.01M1179.7 419.3h.01M1174.3 423.6h.01M1201.9 336.4h.01M1273.9 336.0h.01M1266.7 338.0h.01M1270.3 339.1h.01M1263.0 344.3h.01M1259.3 347.3h.01M1255.7 349.7h.01M1252.1 352.3h.01M1253.3 358.3h.01M1244.6 357.6h.01M1237.4 363.1h.01M1233.7 365.6h.01M1226.3 371.1h.01M1222.7 373.7h.01M1245.7 375.3h.01M1211.7 381.7h.01M1224.6 385.7h.01M1201.4 388.4h.01M1187.9 390.7h.01M1214.3 392.0h.01M1204.6 395.6h.01M1204.6 399.3h.01M1193.0 403.3h.01M1193.9 411.3h.01M1303.7 344.7h.01M1326.3 344.7h.01M1298.6 353.7h.01M1297.0 357.3h.01M1307.7 354.4h.01M1303.4 361.3h.01M1293.4 365.6h.01M1281.7 375.3h.01M1285.3 378.4h.01M1290.6 383.7h.01M1278.3 379.3h.01M1276.3 381.6h.01M1278.1 383.3h.01M1270.3 386.0h.01M1270.7 388.9h.01M1269.0 390.7h.01M1257.4 395.7h.01M1252.1 397.7h.01M1255.4 399.3h.01M1234.3 400.3h.01M1244.6 403.3h.01M1242.6 404.3h.01M1242.1 406.7h.01M1235.9 407.6h.01M1235.9 414.4h.01M1222.7 410.7h.01M1225.0 412.0h.01M1227.9 412.7h.01M1229.7 412.7h.01M1214.3 413.6h.01M1210.1 415.3h.01M1208.3 417.3h.01M1217.7 417.1h.01M1215.7 420.9h.01M1201.3 416.7h.01M1202.3 418.3h.01M1197.7 418.3h.01M1193.0 417.7h.01M1191.0 419.3h.01M1188.3 419.7h.01M1196.7 424.0h.01M1271.1 86.4h.01M1275.1 86.4h.01M1275.9 89.9h.01M1285.2 93.3h.01M1271.3 95.7h.01M1270.0 93.3h.01M1277.5 98.4h.01M1275.9 100.5h.01M1272.1 100.8h.01M1270.5 101.9h.01M1270.5 103.5h.01M1277.5 102.7h.01M1278.3 104.3h.01M1274.5 106.1h.01M1279.6 106.1h.01M1281.5 106.9h.01M1280.7 108.5h.01M1286.5 97.9h.01M1287.9 98.9h.01M1286.0 100.0h.01M1287.6 100.5h.01M1289.5 99.7h.01M1291.1 101.1h.01M1291.9 102.4h.01M1292.4 103.7h.01M1288.4 105.9h.01M1290.5 106.4h.01M1292.4 107.2h.01M1293.5 108.3h.01M1291.6 109.6h.01M1294.0 109.9h.01M1295.6 108.8h.01M1297.2 108.3h.01M1298.8 109.1h.01M1296.1 110.9h.01M1297.7 112.0h.01M1299.3 111.5h.01M1296.7 113.3h.01M1298.3 114.1h.01M1299.9 114.7h.01M1302.0 114.1h.01M1304.1 114.4h.01M1305.7 114.1h.01M1298.8 116.3h.01M1298.0 118.4h.01M1298.3 119.5h.01M1299.1 121.1h.01M1299.1 122.7h.01M1299.1 105.1h.01M1303.6 107.7h.01M1284.7 113.6h.01M1291.6 113.9h.01M1286.0 116.8h.01M1287.3 118.4h.01M1288.4 119.7h.01M1274.5 118.7h.01M1273.5 120.0h.01M1275.9 120.3h.01M1277.2 121.1h.01M1270.8 125.9h.01M1293.5 122.4h.01M1289.5 124.3h.01M1303.3 118.4h.01M1302.3 120.8h.01M1306.5 121.3h.01M1305.5 123.2h.01M1304.4 124.3h.01M1306.8 124.5h.01M1309.2 124.3h.01M1310.5 125.3h.01M1312.1 126.9h.01M1313.2 128.0h.01M1314.8 127.2h.01M1311.6 129.3h.01M1311.1 130.4h.01M1313.2 130.7h.01M1314.3 131.7h.01M1307.6 131.2h.01M1315.9 134.4h.01M1314.8 138.1h.01M1316.4 139.2h.01M1318.0 140.0h.01M1311.1 117.3h.01M1309.2 117.1h.01M1311.1 120.5h.01M1313.2 117.3h.01M1315.3 118.4h.01M1314.3 118.1h.01M1318.8 122.7h.01M1319.3 124.0h.01M1319.9 125.3h.01M1317.7 126.4h.01M1322.3 128.3h.01M1323.9 130.9h.01M1326.3 134.9h.01M1323.9 135.7h.01M1291.3 128.3h.01M1293.5 127.5h.01M1295.1 128.8h.01M1296.9 126.7h.01M1297.7 128.3h.01M1299.1 129.9h.01M1300.7 128.5h.01M1302.3 127.5h.01M1294.5 130.7h.01M1294.3 132.5h.01M1298.8 130.7h.01M1284.4 130.1h.01M1287.9 130.4h.01M1283.3 132.0h.01M1290.5 132.5h.01M1284.1 134.4h.01M1290.0 135.2h.01M1286.5 136.3h.01M1294.5 136.8h.01M1299.3 135.5h.01M1296.7 140.0h.01M1290.0 140.8h.01M1302.8 140.8h.01M1271.9 137.9h.01M1274.8 140.0h.01" stroke="#0000ff" stroke-width="3.5" stroke-linecap="round" fill="none"/>
<ellipse class="c" cx="1175.55" cy="239.15" rx="181.66" ry="182.85"/>
<rect class="a" x="873.60" y="11.20" width="603.90" height="455.90"/>
<path class="a" d="M949.09 467.10v-6.0M949.09 11.20v6.0"/>
<path class="a" d="M1024.58 467.10v-6.0M1024.58 11.20v6.0"/>
<path class="a" d="M1100.06 467.10v-6.0M1100.06 11.20v6.0"/>
<path class="a" d="M1175.55 467.10v-6.0M1175.55 11.20v6.0"/>
<path class="a" d="M1251.04 467.10v-6.0M1251.04 11.20v6.0"/>
<path class="a" d="M1326.53 467.10v-6.0M1326.53 11.20v6.0"/>
<path class="a" d="M1402.01 467.10v-6.0M1402.01 11.20v6.0"/>
<path class="a" d="M873.60 87.18h6.0M1477.50 87.18h-6.0"/>
<path class="a" d="M873.60 163.17h6.0M1477.50 163.17h-6.0"/>
<path class="a" d="M873.60 239.15h6.0M1477.50 239.15h-6.0"/>
<path class="a" d="M873.60 315.13h6.0M1477.50 315.13h-6.0"/>
<path class="a" d="M873.60 391.12h6.0M1477.50 391.12h-6.0"/>
<text class="t" text-anchor="middle" transform="translate(873.6 509.6) scale(1 1.12)">-0.8</text>
<text class="t" text-anchor="middle" transform="translate(949.1 509.6) scale(1 1.12)">-0.6</text>
<text class="t" text-anchor="middle" transform="translate(1024.6 509.6) scale(1 1.12)">-0.4</text>
<text class="t" text-anchor="middle" transform="translate(1100.1 509.6) scale(1 1.12)">-0.2</text>
<text class="t" text-anchor="middle" transform="translate(1175.5 509.6) scale(1 1.12)">0</text>
<text class="t" text-anchor="middle" transform="translate(1251.0 509.6) scale(1 1.12)">0.2</text>
<text class="t" text-anchor="middle" transform="translate(1326.5 509.6) scale(1 1.12)">0.4</text>
<text class="t" text-anchor="middle" transform="translate(1402.0 509.6) scale(1 1.12)">0.6</text>
<text class="t" text-anchor="middle" transform="translate(1477.5 509.6) scale(1 1.12)">0.8</text>
<text class="t" text-anchor="end" transform="translate(863.5 24.7) scale(1 1.12)">0.6</text>
<text class="t" text-anchor="end" transform="translate(863.5 100.7) scale(1 1.12)">0.4</text>
<text class="t" text-anchor="end" transform="translate(863.5 176.7) scale(1 1.12)">0.2</text>
<text class="t" text-anchor="end" transform="translate(863.5 252.7) scale(1 1.12)">0</text>
<text class="t" text-anchor="end" transform="translate(863.5 328.6) scale(1 1.12)">-0.2</text>
<text class="t" text-anchor="end" transform="translate(863.5 404.6) scale(1 1.12)">-0.4</text>
<text class="t" text-anchor="end" transform="translate(863.5 480.6) scale(1 1.12)">-0.6</text>
<g transform="translate(1175.5 545.5) scale(1.000)"><text class="m" x="-44.5" y="0.0" font-size="35" font-style="italic" textLength="25" lengthAdjust="spacingAndGlyphs">B</text><text class="m" x="-18.5" y="6.0" font-size="23.5" font-style="italic">y</text><text class="m" x="-5.5" y="0.6" font-size="37">(</text><text class="m" x="7.0" y="0.0" font-size="35" textLength="24.5" lengthAdjust="spacingAndGlyphs">G</text><text class="m" x="32.5" y="0.6" font-size="37">)</text></g>
<g transform="translate(793.4 239.2) rotate(-90)"><g transform="translate(0.0 0.0) scale(1.000)"><text class="m" x="-44.5" y="0.0" font-size="35" font-style="italic" textLength="25" lengthAdjust="spacingAndGlyphs">B</text><text class="m" x="-18.5" y="6.0" font-size="23.5" font-style="italic">z</text><text class="m" x="-5.5" y="0.6" font-size="37">(</text><text class="m" x="7.0" y="0.0" font-size="35" textLength="24.5" lengthAdjust="spacingAndGlyphs">G</text><text class="m" x="32.5" y="0.6" font-size="37">)</text></g></g>
</g>
<g>
<line class="g" x1="183.14" x2="183.14" y1="598.00" y2="1055.40"/>
<line class="g" x1="258.77" x2="258.77" y1="598.00" y2="1055.40"/>
<line class="g" x1="334.41" x2="334.41" y1="598.00" y2="1055.40"/>
<line class="g" x1="410.05" x2="410.05" y1="598.00" y2="1055.40"/>
<line class="g" x1="485.69" x2="485.69" y1="598.00" y2="1055.40"/>
<line class="g" x1="561.33" x2="561.33" y1="598.00" y2="1055.40"/>
<line class="g" x1="636.96" x2="636.96" y1="598.00" y2="1055.40"/>
<line class="g" x1="107.50" x2="712.60" y1="674.23" y2="674.23"/>
<line class="g" x1="107.50" x2="712.60" y1="750.47" y2="750.47"/>
<line class="g" x1="107.50" x2="712.60" y1="826.70" y2="826.70"/>
<line class="g" x1="107.50" x2="712.60" y1="902.93" y2="902.93"/>
<line class="g" x1="107.50" x2="712.60" y1="979.17" y2="979.17"/>
<path d="M406.7 666.7h.01M380.4 674.3h.01M419.6 679.7h.01M356.9 688.1h.01M402.7 690.1h.01M397.3 695.0h.01M391.1 700.3h.01M386.7 707.0h.01M406.4 705.0h.01M405.1 712.1h.01M339.1 709.9h.01M318.7 723.0h.01M297.1 727.7h.01M296.5 737.7h.01M377.7 720.3h.01M382.0 729.7h.01M387.6 736.6h.01M394.9 732.6h.01M403.7 730.3h.01M369.1 733.7h.01M370.7 738.6h.01M366.7 742.3h.01M360.0 746.7h.01M358.7 747.4h.01M352.0 749.3h.01M356.0 753.7h.01M419.6 716.1h.01M419.3 720.6h.01M418.4 725.0h.01M417.1 731.7h.01M415.6 738.6h.01M410.7 743.3h.01M252.0 752.1h.01M241.7 760.3h.01M232.4 768.6h.01M237.3 776.3h.01M243.3 776.3h.01M260.7 769.7h.01M266.7 766.6h.01M271.7 766.6h.01M288.7 767.7h.01M295.7 770.6h.01M298.4 770.7h.01M292.0 773.4h.01M285.6 776.7h.01M310.0 765.4h.01M321.6 760.6h.01M332.0 758.3h.01M324.3 773.9h.01M342.7 773.4h.01M347.3 766.7h.01M397.3 764.3h.01M393.7 769.4h.01M424.4 671.0h.01M436.4 665.0h.01M445.6 659.9h.01M449.3 656.7h.01M453.3 658.1h.01M456.0 657.3h.01M471.1 653.9h.01M474.4 658.7h.01M476.7 653.0h.01M479.6 653.4h.01M481.3 659.4h.01M486.3 649.9h.01M493.3 657.0h.01M495.3 659.9h.01M493.3 661.9h.01M500.4 663.0h.01M490.7 672.3h.01M489.3 677.4h.01M486.4 687.4h.01M483.3 697.7h.01M486.3 701.4h.01M483.7 703.4h.01M492.0 701.7h.01M498.3 699.8h.01M511.1 671.7h.01M512.3 673.0h.01M513.7 677.4h.01M523.1 670.6h.01M537.6 682.3h.01M513.1 686.7h.01M511.6 689.4h.01M518.4 691.4h.01M524.4 691.3h.01M516.0 695.0h.01M505.7 693.8h.01M509.6 698.3h.01M512.0 700.6h.01M510.9 702.3h.01M517.6 702.3h.01M528.4 703.7h.01M535.3 694.3h.01M552.7 701.4h.01M538.4 709.8h.01M548.9 716.7h.01M554.3 718.1h.01M558.7 722.1h.01M558.0 727.7h.01M507.7 706.3h.01M507.3 713.9h.01M504.3 720.7h.01M505.3 721.9h.01M502.4 726.6h.01M500.4 727.4h.01M499.3 731.9h.01M495.6 731.9h.01M498.7 739.3h.01M498.9 741.3h.01M497.6 745.4h.01M496.0 746.3h.01M495.5 749.3h.01M492.9 753.0h.01M492.7 754.6h.01M493.1 757.0h.01M494.7 757.0h.01M541.6 725.0h.01M542.4 727.4h.01M545.1 740.7h.01M546.7 748.3h.01M548.3 749.4h.01M521.1 753.9h.01M526.4 757.3h.01M534.7 759.3h.01M540.3 758.1h.01M550.4 763.9h.01M551.7 771.7h.01M548.7 776.3h.01M501.6 761.0h.01M505.1 761.3h.01M508.7 763.4h.01M514.4 765.3h.01M517.1 765.7h.01M518.4 767.0h.01M517.3 769.0h.01M519.3 769.4h.01M524.0 767.0h.01M526.4 766.3h.01M528.0 765.7h.01M529.6 763.9h.01M531.7 765.4h.01M536.0 768.6h.01M505.1 768.6h.01M499.3 773.7h.01M492.7 776.1h.01M540.4 773.3h.01M539.3 775.7h.01M421.3 679.7h.01M425.6 679.7h.01M428.3 682.3h.01M421.6 684.1h.01M424.0 686.3h.01M426.0 691.3h.01M425.3 693.4h.01M428.3 694.3h.01M432.9 689.4h.01M439.7 685.4h.01M424.0 700.3h.01M426.7 702.3h.01M422.9 704.7h.01M421.3 711.7h.01M421.1 716.1h.01M424.0 722.3h.01M428.7 720.6h.01M437.7 718.6h.01M443.7 696.7h.01M447.7 701.0h.01M457.7 704.7h.01M462.0 709.9h.01M465.3 710.3h.01M468.7 714.3h.01M450.4 711.4h.01M451.5 714.3h.01M233.3 780.7h.01M226.7 789.9h.01M226.3 793.9h.01M229.3 800.7h.01M235.7 806.1h.01M245.3 797.4h.01M247.6 798.3h.01M251.6 796.7h.01M255.7 794.1h.01M259.6 793.9h.01M263.3 791.4h.01M254.7 801.4h.01M272.0 785.4h.01M264.3 805.3h.01M266.3 815.7h.01M278.7 807.9h.01M282.9 812.6h.01M283.3 815.7h.01M289.6 800.6h.01M306.4 786.3h.01M312.7 782.7h.01M317.6 784.3h.01M324.4 789.9h.01M334.0 786.7h.01M331.7 796.1h.01M325.3 799.8h.01M341.6 804.1h.01M344.3 803.7h.01M351.6 803.7h.01M378.7 787.4h.01M374.3 794.3h.01M370.0 801.4h.01M379.6 806.1h.01M395.3 809.7h.01M390.3 813.4h.01M402.7 816.6h.01M394.0 821.7h.01M382.9 820.6h.01M373.3 822.7h.01M363.6 824.6h.01M358.1 818.5h.01M389.3 829.3h.01M316.7 813.3h.01M315.1 817.0h.01M328.0 817.4h.01M305.3 820.1h.01M317.6 821.9h.01M310.9 824.3h.01M320.3 828.1h.01M334.3 830.7h.01M338.9 835.8h.01M314.7 834.7h.01M321.3 835.3h.01M324.7 837.3h.01M321.7 838.7h.01M325.3 844.5h.01M305.1 837.0h.01M350.4 834.7h.01M356.7 832.1h.01M348.3 839.7h.01M357.7 843.4h.01M346.7 847.7h.01M345.1 850.6h.01M356.3 854.1h.01M365.1 851.7h.01M377.7 849.1h.01M389.3 850.7h.01M385.6 855.3h.01M387.7 863.0h.01M397.3 841.3h.01M409.1 840.7h.01M418.9 838.3h.01M419.3 861.0h.01M242.0 831.7h.01M256.9 828.3h.01M238.9 849.3h.01M285.6 841.0h.01M283.3 845.9h.01M270.3 848.6h.01M268.0 851.4h.01M262.9 853.3h.01M256.7 859.7h.01M251.3 860.3h.01M250.4 863.9h.01M268.3 860.7h.01M283.3 860.3h.01M258.4 869.4h.01M288.3 870.7h.01M246.7 873.0h.01M249.1 872.7h.01M246.7 875.0h.01M250.9 877.9h.01M252.4 877.0h.01M254.4 880.3h.01M259.3 881.9h.01M262.9 884.1h.01M264.3 885.0h.01M268.3 887.7h.01M270.7 887.3h.01M274.7 889.4h.01M278.7 892.1h.01M284.4 895.0h.01M285.1 887.7h.01M290.0 882.7h.01M292.7 895.0h.01M296.3 897.7h.01M249.6 886.3h.01M238.7 895.3h.01M238.4 900.6h.01M238.9 903.0h.01M260.7 903.7h.01M254.7 906.6h.01M256.7 909.3h.01M260.3 908.1h.01M255.6 914.7h.01M246.7 913.9h.01M250.9 920.3h.01M255.3 919.0h.01M264.4 916.3h.01M254.9 925.4h.01M258.0 926.3h.01M274.7 923.3h.01M331.3 860.5h.01M334.3 864.6h.01M336.7 868.7h.01M342.7 871.7h.01M341.6 875.9h.01M322.0 869.9h.01M312.4 871.9h.01M305.5 876.5h.01M325.3 879.4h.01M348.7 885.3h.01M349.3 890.6h.01M348.4 894.6h.01M350.4 895.9h.01M355.7 894.1h.01M355.3 896.1h.01M354.4 899.4h.01M368.9 888.6h.01M380.7 873.4h.01M384.3 880.1h.01M389.7 893.7h.01M412.4 881.9h.01M418.0 883.7h.01M383.7 904.1h.01M419.6 901.9h.01M417.7 907.9h.01M305.3 902.6h.01M303.1 909.7h.01M316.0 907.0h.01M322.0 909.7h.01M328.4 911.3h.01M335.3 915.7h.01M330.4 918.1h.01M338.0 919.3h.01M344.0 920.3h.01M312.0 922.1h.01M310.0 923.7h.01M321.3 925.3h.01M354.0 909.0h.01M362.0 905.4h.01M365.3 909.0h.01M367.6 910.1h.01M376.0 908.7h.01M373.6 912.6h.01M374.7 917.0h.01M364.9 919.4h.01M362.0 923.7h.01M365.6 926.3h.01M356.9 927.4h.01M371.3 927.7h.01M377.3 928.3h.01M402.9 921.0h.01M410.0 921.0h.01M416.0 921.9h.01M412.0 928.3h.01M488.0 778.6h.01M482.7 782.6h.01M485.3 786.7h.01M466.0 790.3h.01M469.1 795.7h.01M467.6 798.3h.01M466.7 801.0h.01M464.0 806.3h.01M463.7 808.6h.01M465.3 811.9h.01M469.6 808.6h.01M467.7 819.3h.01M466.0 822.3h.01M470.9 825.4h.01M474.0 829.0h.01M472.3 834.3h.01M471.7 841.4h.01M475.3 840.7h.01M475.7 842.3h.01M428.3 800.3h.01M431.7 810.6h.01M422.3 812.6h.01M448.7 802.3h.01M451.3 806.3h.01M449.1 814.6h.01M446.0 824.6h.01M444.4 829.7h.01M450.0 836.1h.01M460.4 828.1h.01M452.9 848.3h.01M440.0 845.0h.01M438.7 850.1h.01M436.9 855.3h.01M436.3 858.1h.01M453.6 862.3h.01M452.4 865.0h.01M446.4 864.6h.01M449.1 868.1h.01M445.6 872.3h.01M481.6 827.4h.01M482.3 832.3h.01M485.6 835.3h.01M488.3 824.3h.01M480.3 843.7h.01M480.9 847.0h.01M481.3 850.3h.01M489.3 848.6h.01M490.3 851.0h.01M484.4 853.4h.01M485.6 855.7h.01M484.9 858.1h.01M484.9 864.1h.01M469.3 853.0h.01M468.0 856.6h.01M472.9 855.7h.01M468.7 861.7h.01M485.7 857.3h.01M487.5 857.6h.01M488.8 857.1h.01M490.4 856.7h.01M491.6 856.9h.01M493.6 856.9h.01M495.0 856.6h.01M495.9 856.1h.01M497.9 856.1h.01M498.8 855.2h.01M500.4 855.4h.01M501.8 854.8h.01M503.4 855.0h.01M504.4 854.0h.01M507.3 863.0h.01M513.3 853.9h.01M517.1 853.7h.01M520.3 851.3h.01M524.0 850.3h.01M524.4 856.3h.01M527.3 855.7h.01M530.3 849.4h.01M532.3 850.1h.01M530.4 844.1h.01M504.4 795.0h.01M512.9 790.3h.01M503.1 801.9h.01M502.7 811.7h.01M502.4 825.4h.01M502.9 835.7h.01M516.9 813.3h.01M515.6 819.9h.01M512.0 824.3h.01M514.9 829.7h.01M520.9 823.7h.01M525.1 806.6h.01M523.1 816.6h.01M525.0 815.6h.01M525.6 818.1h.01M524.0 815.6h.01M525.7 815.7h.01M522.5 818.3h.01M522.9 819.2h.01M524.0 815.5h.01M529.7 812.7h.01M530.7 816.6h.01M530.0 819.0h.01M536.7 815.7h.01M537.6 817.9h.01M535.6 821.4h.01M533.1 832.7h.01M528.0 783.9h.01M534.3 778.3h.01M536.2 783.4h.01M541.2 786.8h.01M535.4 783.3h.01M534.4 783.3h.01M544.2 782.8h.01M541.2 783.2h.01M537.9 782.9h.01M536.9 783.0h.01M537.7 786.0h.01M542.9 783.5h.01M534.3 783.8h.01M537.9 786.6h.01M535.9 783.1h.01M538.3 785.9h.01M531.7 794.3h.01M530.7 796.3h.01M529.6 799.0h.01M534.7 801.3h.01M539.6 804.3h.01M542.4 809.4h.01M542.3 792.7h.01M548.7 792.3h.01M552.0 793.4h.01M554.4 794.6h.01M555.3 787.0h.01M558.7 789.7h.01M562.9 791.7h.01M562.7 796.1h.01M559.1 801.0h.01M562.0 804.3h.01M562.7 805.3h.01M560.3 810.3h.01M566.3 801.4h.01M570.7 794.3h.01M572.0 800.7h.01M577.6 794.7h.01M578.0 797.3h.01M578.0 802.7h.01M582.3 793.3h.01M583.3 794.6h.01M587.1 790.3h.01M588.0 792.3h.01M587.7 802.7h.01M588.7 805.3h.01M592.0 813.9h.01M592.7 818.3h.01M590.7 822.3h.01M573.6 810.9h.01M572.1 814.0h.01M568.6 811.0h.01M573.9 812.6h.01M568.0 813.1h.01M568.4 811.0h.01M573.6 812.7h.01M567.7 811.9h.01M569.0 810.9h.01M569.4 812.0h.01M572.6 813.2h.01M572.8 813.4h.01M570.9 811.2h.01M568.5 811.4h.01M562.7 815.3h.01M562.0 817.7h.01M561.1 820.3h.01M574.7 819.3h.01M576.0 825.4h.01M559.7 825.0h.01M557.3 827.4h.01M563.3 825.7h.01M564.4 828.3h.01M551.7 827.9h.01M557.1 835.3h.01M555.6 840.3h.01M563.3 839.3h.01M569.1 839.3h.01M574.4 837.4h.01M573.3 831.4h.01M576.7 832.3h.01M578.7 834.3h.01M580.4 834.7h.01M582.7 834.6h.01M582.0 843.3h.01M588.9 841.7h.01M590.7 844.3h.01M591.3 850.3h.01M556.7 848.6h.01M552.7 850.3h.01M540.4 848.3h.01M542.0 849.7h.01M544.0 850.1h.01M546.0 850.7h.01M548.0 851.7h.01M550.0 853.3h.01M548.7 858.3h.01M548.0 861.0h.01M548.7 865.4h.01M547.3 870.3h.01M542.4 873.0h.01M545.6 875.7h.01M539.3 875.3h.01M537.3 879.0h.01M576.0 853.9h.01M570.3 863.7h.01M575.7 865.9h.01M572.7 869.3h.01M575.7 871.7h.01M581.6 865.7h.01M583.3 865.4h.01M582.2 861.9h.01M583.8 853.8h.01M582.6 861.0h.01M586.7 860.1h.01M583.6 859.6h.01M586.1 864.0h.01M587.0 867.0h.01M586.4 854.4h.01M587.6 857.4h.01M585.8 858.8h.01M586.9 855.8h.01M583.6 856.6h.01M585.9 858.0h.01M585.4 856.3h.01M587.4 863.7h.01M585.2 866.5h.01M582.8 855.6h.01M588.5 862.4h.01M588.2 858.8h.01M587.8 860.1h.01M583.7 865.8h.01M586.0 863.1h.01M583.5 858.7h.01M584.3 872.3h.01M556.0 877.7h.01M564.0 879.7h.01M561.3 882.7h.01M564.7 883.7h.01M567.3 884.3h.01M570.0 882.3h.01M569.3 878.3h.01M571.3 875.7h.01M572.7 875.7h.01M577.2 876.9h.01M577.9 880.6h.01M580.2 876.9h.01M580.4 876.7h.01M578.2 876.9h.01M581.1 880.1h.01M578.7 880.1h.01M580.1 875.9h.01M577.4 881.5h.01M578.8 877.6h.01M578.2 883.9h.01M578.2 880.3h.01M578.5 878.9h.01M578.5 876.8h.01M574.0 886.6h.01M571.3 889.7h.01M575.3 891.4h.01M577.7 889.7h.01M575.3 894.3h.01M574.7 897.0h.01M575.1 899.4h.01M572.0 900.3h.01M564.7 895.3h.01M564.7 899.7h.01M567.3 899.9h.01M569.3 900.3h.01M576.7 903.0h.01M571.3 906.3h.01M570.7 909.7h.01M525.1 867.3h.01M523.6 872.7h.01M522.4 878.3h.01M520.9 880.1h.01M518.0 885.0h.01M516.9 889.9h.01M514.0 889.7h.01M510.7 891.7h.01M507.7 895.4h.01M504.3 889.0h.01M500.3 898.3h.01M499.6 901.9h.01M477.7 879.0h.01M478.0 887.4h.01M480.0 887.9h.01M484.4 887.7h.01M482.3 898.3h.01M424.0 876.3h.01M424.7 883.9h.01M431.3 884.3h.01M435.6 886.3h.01M432.7 890.3h.01M434.4 891.9h.01M450.9 885.7h.01M457.7 886.3h.01M464.4 886.7h.01M440.0 901.0h.01M442.4 902.6h.01M446.3 907.9h.01M421.1 901.9h.01M529.1 886.3h.01M529.3 891.0h.01M531.3 892.3h.01M533.3 887.9h.01M534.9 888.3h.01M524.7 890.3h.01M534.7 897.0h.01M539.1 900.3h.01M541.1 902.3h.01M541.7 889.7h.01M542.7 885.7h.01M543.1 887.7h.01M541.1 891.0h.01M541.6 895.0h.01M542.4 897.0h.01M544.0 899.4h.01M547.6 890.3h.01M550.4 888.7h.01M547.3 895.3h.01M555.1 890.3h.01M557.3 886.3h.01M545.3 905.7h.01M547.7 904.3h.01M550.4 901.7h.01M548.9 908.3h.01M553.7 903.0h.01M556.4 902.6h.01M558.3 902.6h.01M553.3 905.4h.01M552.0 909.7h.01M554.7 910.3h.01M560.0 911.0h.01M562.4 910.3h.01M564.7 910.3h.01M560.7 913.3h.01M562.0 915.0h.01M567.3 913.7h.01M566.0 917.9h.01M562.7 921.4h.01M560.4 925.0h.01M557.3 926.1h.01M551.6 925.0h.01M557.1 928.3h.01M547.6 928.3h.01M539.6 913.3h.01M541.7 917.7h.01M518.7 905.0h.01M521.3 902.3h.01M520.7 906.1h.01M518.7 909.0h.01M520.3 910.3h.01M519.3 911.7h.01M513.3 908.1h.01M525.3 908.1h.01M527.3 907.0h.01M529.6 905.7h.01M530.9 907.4h.01M495.3 909.0h.01M496.4 913.0h.01M500.7 911.7h.01M506.9 911.7h.01M489.3 911.9h.01M491.3 913.0h.01M492.7 914.3h.01M516.7 915.0h.01M516.0 917.0h.01M519.3 917.7h.01M518.3 919.7h.01M520.3 919.9h.01M516.7 921.3h.01M512.7 919.7h.01M510.4 920.7h.01M508.0 921.0h.01M506.4 923.0h.01M518.4 923.7h.01M518.7 926.1h.01M528.7 920.3h.01M529.1 926.3h.01M478.4 916.2h.01M477.0 919.2h.01M476.9 919.5h.01M477.1 916.0h.01M475.0 917.9h.01M478.0 919.6h.01M475.4 918.3h.01M476.7 922.3h.01M479.6 925.0h.01M482.4 925.4h.01M456.0 913.9h.01M460.0 917.7h.01M464.0 920.3h.01M464.7 922.3h.01M468.3 922.6h.01M470.7 923.3h.01M465.3 924.6h.01M430.7 921.0h.01M444.9 922.7h.01M440.9 927.4h.01M450.9 926.1h.01M455.6 925.4h.01M431.7 928.3h.01M426.7 928.3h.01M486.3 923.7h.01M490.0 922.7h.01M493.1 924.3h.01M488.7 927.4h.01M485.3 928.3h.01M495.3 928.3h.01M514.7 928.3h.01M261.1 931.0h.01M268.3 932.3h.01M276.7 935.0h.01M278.7 935.9h.01M284.4 937.7h.01M286.7 938.6h.01M292.4 940.7h.01M298.0 942.3h.01M300.0 943.3h.01M305.6 945.3h.01M311.3 947.0h.01M313.6 948.3h.01M318.9 949.9h.01M322.0 949.9h.01M324.7 956.3h.01M330.9 956.1h.01M333.3 957.7h.01M336.9 957.4h.01M339.1 961.3h.01M292.0 945.0h.01M290.7 947.0h.01M289.3 949.0h.01M290.4 954.3h.01M290.7 963.4h.01M295.6 971.4h.01M300.4 973.4h.01M302.7 949.4h.01M311.7 952.1h.01M305.6 931.7h.01M318.4 932.1h.01M340.7 940.3h.01M340.9 943.0h.01M341.6 947.0h.01M344.3 950.3h.01M343.6 953.7h.01M342.7 969.7h.01M349.1 960.1h.01M351.3 962.3h.01M356.7 962.3h.01M358.7 963.9h.01M360.0 965.0h.01M361.7 962.1h.01M363.3 964.3h.01M360.7 966.3h.01M361.6 970.3h.01M366.0 972.3h.01M368.0 973.4h.01M364.7 975.9h.01M367.1 977.7h.01M372.7 979.0h.01M374.0 982.6h.01M377.1 980.3h.01M380.7 982.3h.01M383.1 982.7h.01M385.3 983.4h.01M388.6 984.3h.01M389.8 985.0h.01M391.3 986.1h.01M392.4 986.6h.01M394.1 987.7h.01M395.0 988.1h.01M396.6 989.5h.01M397.5 989.9h.01M399.0 991.0h.01M400.2 992.0h.01M396.7 995.0h.01M397.1 997.7h.01M399.3 998.6h.01M397.1 999.4h.01M390.9 999.7h.01M390.4 1002.1h.01M388.0 1002.3h.01M386.0 1005.9h.01M396.7 1007.4h.01M408.3 1006.6h.01M407.7 993.9h.01M417.3 994.3h.01M351.1 981.3h.01M357.1 978.5h.01M313.3 979.4h.01M321.7 980.7h.01M378.7 972.3h.01M385.7 973.9h.01M395.7 969.7h.01M395.3 974.3h.01M382.9 932.6h.01M387.7 931.9h.01M389.3 930.6h.01M392.9 933.7h.01M397.6 931.3h.01M402.4 932.3h.01M400.0 939.0h.01M400.4 947.0h.01M403.6 953.3h.01M402.7 957.4h.01M403.7 959.9h.01M407.3 967.0h.01M410.0 967.9h.01M411.3 975.0h.01M413.7 977.3h.01M417.7 980.3h.01M419.6 982.3h.01M412.3 946.3h.01M418.0 950.3h.01M417.7 972.7h.01M479.1 931.9h.01M481.3 935.0h.01M486.4 935.3h.01M482.0 937.0h.01M485.3 938.6h.01M481.6 940.3h.01M484.3 943.0h.01M472.7 941.7h.01M476.0 942.3h.01M472.0 945.7h.01M474.7 946.6h.01M466.7 946.3h.01M478.7 949.3h.01M480.7 950.1h.01M495.1 930.3h.01M498.7 934.3h.01M500.0 934.3h.01M505.3 931.4h.01M514.0 930.6h.01M516.0 930.3h.01M488.3 947.7h.01M488.7 950.1h.01M483.7 952.3h.01M486.3 953.3h.01M489.1 953.0h.01M490.4 955.0h.01M492.7 955.7h.01M492.0 957.7h.01M495.3 957.0h.01M497.7 957.4h.01M496.0 961.0h.01M496.3 963.0h.01M505.3 960.6h.01M507.3 961.0h.01M504.0 963.4h.01M502.9 964.3h.01M507.3 964.1h.01M509.1 964.7h.01M512.3 962.3h.01M514.9 963.4h.01M517.3 964.3h.01M519.7 965.0h.01M521.3 964.7h.01M520.3 967.0h.01M520.9 968.6h.01M519.7 971.0h.01M518.9 974.3h.01M532.0 961.4h.01M531.6 961.9h.01M527.7 966.5h.01M532.0 961.6h.01M525.8 963.2h.01M528.8 963.1h.01M524.8 962.0h.01M530.9 966.9h.01M524.0 964.4h.01M529.7 964.3h.01M530.0 962.5h.01M527.9 964.6h.01M527.9 965.1h.01M528.1 963.5h.01M523.8 964.8h.01M528.6 962.0h.01M517.7 957.7h.01M524.0 959.7h.01M524.7 957.3h.01M526.3 953.7h.01M527.7 949.7h.01M529.6 944.7h.01M524.9 943.4h.01M522.7 941.0h.01M527.3 938.3h.01M530.9 940.7h.01M532.4 936.7h.01M534.7 931.7h.01M544.0 933.7h.01M542.4 940.3h.01M553.3 931.0h.01M554.0 935.9h.01M558.0 935.0h.01M544.7 945.3h.01M544.3 947.7h.01M548.7 944.3h.01M541.6 951.3h.01M536.3 951.4h.01M537.1 956.3h.01M533.6 959.0h.01M421.6 953.7h.01M454.7 951.4h.01M447.6 963.9h.01M451.6 964.7h.01M456.4 966.1h.01M470.3 967.3h.01M465.3 970.3h.01M466.4 971.3h.01M470.0 975.9h.01M471.6 977.0h.01M470.7 979.7h.01M472.3 981.4h.01M470.7 982.3h.01M481.7 982.6h.01M421.5 982.9h.01M423.5 983.7h.01M425.6 984.8h.01M427.6 986.1h.01M429.7 987.2h.01M432.1 988.1h.01M434.3 989.3h.01M436.4 990.9h.01M438.4 991.7h.01M440.6 993.1h.01M442.9 994.1h.01M439.1 996.7h.01M452.1 999.7h.01M450.3 1000.5h.01M447.2 997.3h.01M452.3 996.2h.01M453.4 996.9h.01M452.8 996.2h.01M450.4 1000.3h.01M448.2 996.8h.01M450.4 997.1h.01M451.7 1000.2h.01M447.9 999.6h.01M447.5 998.2h.01M451.4 997.3h.01M453.2 998.4h.01M456.0 995.3h.01M457.7 993.7h.01M461.3 990.6h.01M464.7 988.1h.01M466.7 988.7h.01M467.6 995.3h.01M472.7 994.1h.01M478.4 992.6h.01M487.1 990.1h.01M490.0 990.3h.01M495.6 986.1h.01M504.0 984.3h.01M509.6 982.1h.01M504.3 989.7h.01M494.4 996.3h.01M430.0 1010.3h.01M441.7 1009.7h.01M451.6 1009.8h.01M234.7 865.1h.01M229.9 867.9h.01M231.3 867.1h.01M232.1 868.9h.01M239.3 868.3h.01M233.7 870.1h.01M235.5 871.1h.01M236.9 871.9h.01M238.1 873.1h.01M239.3 873.5h.01M240.9 873.1h.01M242.5 872.7h.01M240.1 875.3h.01M239.7 876.9h.01M239.1 878.4h.01M238.5 879.6h.01M230.7 875.5h.01M230.1 879.2h.01M233.3 881.2h.01M234.1 882.2h.01M235.1 883.2h.01" stroke="#0000ff" stroke-width="3.5" stroke-linecap="round" fill="none"/>
<ellipse class="c" cx="410.05" cy="826.70" rx="182.02" ry="183.46"/>
<rect class="a" x="107.50" y="598.00" width="605.10" height="457.40"/>
<path class="a" d="M183.14 1055.40v-6.0M183.14 598.00v6.0"/>
<path class="a" d="M258.77 1055.40v-6.0M258.77 598.00v6.0"/>
<path class="a" d="M334.41 1055.40v-6.0M334.41 598.00v6.0"/>
<path class="a" d="M410.05 1055.40v-6.0M410.05 598.00v6.0"/>
<path class="a" d="M485.69 1055.40v-6.0M485.69 598.00v6.0"/>
<path class="a" d="M561.33 1055.40v-6.0M561.33 598.00v6.0"/>
<path class="a" d="M636.96 1055.40v-6.0M636.96 598.00v6.0"/>
<path class="a" d="M107.50 674.23h6.0M712.60 674.23h-6.0"/>
<path class="a" d="M107.50 750.47h6.0M712.60 750.47h-6.0"/>
<path class="a" d="M107.50 826.70h6.0M712.60 826.70h-6.0"/>
<path class="a" d="M107.50 902.93h6.0M712.60 902.93h-6.0"/>
<path class="a" d="M107.50 979.17h6.0M712.60 979.17h-6.0"/>
<text class="t" text-anchor="middle" transform="translate(107.5 1097.9) scale(1 1.12)">-0.8</text>
<text class="t" text-anchor="middle" transform="translate(183.1 1097.9) scale(1 1.12)">-0.6</text>
<text class="t" text-anchor="middle" transform="translate(258.8 1097.9) scale(1 1.12)">-0.4</text>
<text class="t" text-anchor="middle" transform="translate(334.4 1097.9) scale(1 1.12)">-0.2</text>
<text class="t" text-anchor="middle" transform="translate(410.1 1097.9) scale(1 1.12)">0</text>
<text class="t" text-anchor="middle" transform="translate(485.7 1097.9) scale(1 1.12)">0.2</text>
<text class="t" text-anchor="middle" transform="translate(561.3 1097.9) scale(1 1.12)">0.4</text>
<text class="t" text-anchor="middle" transform="translate(637.0 1097.9) scale(1 1.12)">0.6</text>
<text class="t" text-anchor="middle" transform="translate(712.6 1097.9) scale(1 1.12)">0.8</text>
<text class="t" text-anchor="end" transform="translate(97.4 611.5) scale(1 1.12)">0.6</text>
<text class="t" text-anchor="end" transform="translate(97.4 687.7) scale(1 1.12)">0.4</text>
<text class="t" text-anchor="end" transform="translate(97.4 764.0) scale(1 1.12)">0.2</text>
<text class="t" text-anchor="end" transform="translate(97.4 840.2) scale(1 1.12)">0</text>
<text class="t" text-anchor="end" transform="translate(97.4 916.4) scale(1 1.12)">-0.2</text>
<text class="t" text-anchor="end" transform="translate(97.4 992.7) scale(1 1.12)">-0.4</text>
<text class="t" text-anchor="end" transform="translate(97.4 1068.9) scale(1 1.12)">-0.6</text>
<g transform="translate(410.1 1133.1) scale(1.000)"><text class="m" x="-44.5" y="0.0" font-size="35" font-style="italic" textLength="25" lengthAdjust="spacingAndGlyphs">B</text><text class="m" x="-18.5" y="6.0" font-size="23.5" font-style="italic">z</text><text class="m" x="-5.5" y="0.6" font-size="37">(</text><text class="m" x="7.0" y="0.0" font-size="35" textLength="24.5" lengthAdjust="spacingAndGlyphs">G</text><text class="m" x="32.5" y="0.6" font-size="37">)</text></g>
<g transform="translate(27.3 826.7) rotate(-90)"><g transform="translate(0.0 0.0) scale(1.000)"><text class="m" x="-44.5" y="0.0" font-size="35" font-style="italic" textLength="25" lengthAdjust="spacingAndGlyphs">B</text><text class="m" x="-18.5" y="6.0" font-size="23.5" font-style="italic">x</text><text class="m" x="-5.5" y="0.6" font-size="37">(</text><text class="m" x="7.0" y="0.0" font-size="35" textLength="24.5" lengthAdjust="spacingAndGlyphs">G</text><text class="m" x="32.5" y="0.6" font-size="37">)</text></g></g>
</g>
<g>
<line class="g" x1="944.60" x2="944.60" y1="598.00" y2="1059.70"/>
<line class="g" x1="1020.90" x2="1020.90" y1="598.00" y2="1059.70"/>
<line class="g" x1="1097.20" x2="1097.20" y1="598.00" y2="1059.70"/>
<line class="g" x1="1173.50" x2="1173.50" y1="598.00" y2="1059.70"/>
<line class="g" x1="1249.80" x2="1249.80" y1="598.00" y2="1059.70"/>
<line class="g" x1="1326.10" x2="1326.10" y1="598.00" y2="1059.70"/>
<line class="g" x1="1402.40" x2="1402.40" y1="598.00" y2="1059.70"/>
<line class="g" x1="868.30" x2="1478.70" y1="674.95" y2="674.95"/>
<line class="g" x1="868.30" x2="1478.70" y1="751.90" y2="751.90"/>
<line class="g" x1="868.30" x2="1478.70" y1="828.85" y2="828.85"/>
<line class="g" x1="868.30" x2="1478.70" y1="905.80" y2="905.80"/>
<line class="g" x1="868.30" x2="1478.70" y1="982.75" y2="982.75"/>
<path d="M1164.6 709.1h.01M1139.4 717.7h.01M1114.6 731.7h.01M1157.9 731.7h.01M1152.3 736.9h.01M1145.4 742.0h.01M1140.6 748.4h.01M1163.7 744.4h.01M1160.7 751.3h.01M1095.4 752.8h.01M1130.9 761.2h.01M1136.6 768.9h.01M1142.7 774.7h.01M1150.3 770.7h.01M1159.3 767.7h.01M1162.1 780.8h.01M1074.1 766.0h.01M1051.7 771.7h.01M1050.7 781.1h.01M1121.3 774.1h.01M1124.6 777.7h.01M1121.3 781.1h.01M1113.0 786.3h.01M1111.4 786.9h.01M1105.9 788.3h.01M1106.6 793.3h.01M1085.0 798.1h.01M1074.3 800.5h.01M1096.7 805.9h.01M1091.9 812.4h.01M1075.7 812.9h.01M1062.5 805.7h.01M1050.3 811.5h.01M1044.7 812.4h.01M1043.7 814.4h.01M1038.1 810.0h.01M1037.0 818.0h.01M1021.0 810.0h.01M1016.3 810.3h.01M1009.7 813.6h.01M1004.2 797.1h.01M993.3 805.3h.01M983.1 813.3h.01M986.6 820.7h.01M992.3 820.7h.01M982.1 825.1h.01M1022.3 826.7h.01M1013.0 831.7h.01M1057.4 825.1h.01M1063.4 821.7h.01M1065.4 824.0h.01M1072.1 828.4h.01M1082.1 825.1h.01M1147.4 800.9h.01M1143.4 805.9h.01M1126.6 823.6h.01M1121.9 830.0h.01M1246.3 689.3h.01M1230.1 694.0h.01M1235.7 692.9h.01M1239.0 693.3h.01M1233.9 698.3h.01M1241.3 698.3h.01M1253.0 695.3h.01M1254.3 697.3h.01M1252.7 700.3h.01M1259.9 700.7h.01M1214.6 698.0h.01M1211.7 699.1h.01M1209.4 697.3h.01M1203.8 701.3h.01M1194.3 706.7h.01M1166.6 709.1h.01M1181.4 712.7h.01M1176.7 721.1h.01M1182.1 721.1h.01M1184.1 723.3h.01M1177.4 725.7h.01M1179.7 727.3h.01M1181.7 731.7h.01M1180.7 733.6h.01M1185.3 733.6h.01M1188.6 729.6h.01M1179.0 740.3h.01M1184.1 741.1h.01M1177.7 744.4h.01M1175.7 750.7h.01M1174.1 754.9h.01M1172.7 759.3h.01M1171.4 763.7h.01M1169.7 769.6h.01M1167.7 775.7h.01M1180.3 759.6h.01M1185.3 757.3h.01M1194.5 755.3h.01M1197.7 724.9h.01M1199.0 735.7h.01M1205.4 738.4h.01M1212.6 742.3h.01M1207.7 747.7h.01M1208.3 750.3h.01M1219.3 745.6h.01M1219.9 747.3h.01M1222.6 750.4h.01M1249.4 710.0h.01M1247.3 714.7h.01M1243.4 724.3h.01M1239.7 734.0h.01M1241.7 733.6h.01M1243.9 736.7h.01M1241.4 738.7h.01M1249.4 736.7h.01M1256.1 734.4h.01M1269.4 708.3h.01M1271.3 708.9h.01M1272.6 713.3h.01M1271.7 721.7h.01M1269.7 724.3h.01M1275.0 726.4h.01M1281.3 725.7h.01M1272.3 730.0h.01M1263.9 728.7h.01M1267.7 732.9h.01M1268.1 734.7h.01M1266.6 736.9h.01M1263.3 741.1h.01M1261.9 748.0h.01M1275.0 735.7h.01M1285.7 736.4h.01M1281.9 706.4h.01M1295.7 716.3h.01M1292.3 728.0h.01M1309.4 733.6h.01M1294.7 742.0h.01M1304.6 747.7h.01M1310.3 748.4h.01M1314.3 752.3h.01M1313.0 757.3h.01M1297.0 756.0h.01M1297.0 758.3h.01M1258.6 754.4h.01M1259.4 755.7h.01M1256.1 760.0h.01M1254.3 760.7h.01M1252.6 765.1h.01M1248.6 765.3h.01M1251.7 772.0h.01M1251.4 773.7h.01M1249.9 777.6h.01M1248.3 778.9h.01M1247.4 781.3h.01M1244.7 784.7h.01M1244.3 786.7h.01M1245.0 788.4h.01M1299.7 770.0h.01M1300.7 776.7h.01M1301.0 778.7h.01M1303.4 790.9h.01M1304.6 798.0h.01M1299.4 804.0h.01M1273.0 784.0h.01M1278.3 786.7h.01M1286.6 788.3h.01M1292.3 786.7h.01M1252.6 791.7h.01M1256.3 791.6h.01M1259.7 793.6h.01M1255.7 798.4h.01M1249.3 804.0h.01M1242.6 806.7h.01M1237.7 808.7h.01M1232.3 812.7h.01M1234.5 816.7h.01M1265.4 794.7h.01M1267.7 795.3h.01M1269.0 796.7h.01M1269.7 798.0h.01M1268.7 794.7h.01M1275.0 795.7h.01M1278.1 794.9h.01M1280.3 792.9h.01M1282.7 794.4h.01M1287.3 796.9h.01M1290.7 801.3h.01M1289.7 803.7h.01M1284.6 805.6h.01M1289.9 812.9h.01M1290.4 810.0h.01M1292.2 809.3h.01M1294.2 811.1h.01M1287.5 812.2h.01M1288.4 808.8h.01M1292.4 809.2h.01M1289.9 811.6h.01M1290.2 810.3h.01M1289.1 813.0h.01M1285.1 809.1h.01M1284.8 809.8h.01M1286.1 811.2h.01M1290.0 808.9h.01M1278.1 811.6h.01M1307.3 812.0h.01M1308.3 814.4h.01M1313.0 816.7h.01M1312.3 820.4h.01M1303.7 819.7h.01M1301.7 818.7h.01M1298.3 817.7h.01M1291.7 818.7h.01M1308.7 825.3h.01M1311.4 828.0h.01M1315.7 825.3h.01M1320.6 818.7h.01M1322.1 824.0h.01M1327.7 825.6h.01M1327.7 821.1h.01M1329.3 818.3h.01M1333.7 816.3h.01M1333.7 818.0h.01M1338.1 813.7h.01M1338.3 815.7h.01M1337.9 824.4h.01M1338.3 827.1h.01M1281.0 820.7h.01M1279.9 822.7h.01M1278.6 825.1h.01M1283.4 827.3h.01M1288.3 829.3h.01M1262.1 818.3h.01M1253.3 823.3h.01M1251.4 829.6h.01M1214.6 821.3h.01M1217.3 826.0h.01M1215.4 828.3h.01M1215.0 830.7h.01M975.4 833.6h.01M974.6 837.6h.01M977.0 843.7h.01M982.7 848.7h.01M994.1 839.6h.01M996.7 840.0h.01M1001.0 838.3h.01M1005.4 835.6h.01M1009.4 834.9h.01M1013.0 833.3h.01M1003.3 842.4h.01M1012.6 845.6h.01M1012.3 855.7h.01M1004.1 867.3h.01M988.7 871.3h.01M984.3 887.6h.01M1016.6 885.1h.01M1014.1 887.7h.01M1008.7 889.7h.01M1013.4 896.7h.01M1002.1 896.4h.01M996.3 897.3h.01M995.3 900.4h.01M1003.0 905.1h.01M1039.3 839.6h.01M1027.7 846.9h.01M1031.0 851.6h.01M1031.9 853.3h.01M1032.3 877.3h.01M1029.7 882.0h.01M1029.0 894.9h.01M1033.3 904.7h.01M1034.1 915.6h.01M1029.0 920.4h.01M1079.0 834.0h.01M1072.6 837.7h.01M1088.3 840.7h.01M1091.0 840.3h.01M1098.3 840.0h.01M1117.0 836.9h.01M1126.3 840.7h.01M1141.9 843.1h.01M1136.6 846.9h.01M1152.3 848.0h.01M1132.3 852.7h.01M1139.7 854.3h.01M1138.3 860.0h.01M1122.3 855.3h.01M1112.3 857.3h.01M1103.9 853.3h.01M1105.0 864.7h.01M1105.0 875.3h.01M1112.3 882.4h.01M1103.4 885.1h.01M1062.6 850.7h.01M1061.0 854.3h.01M1051.0 857.6h.01M1058.7 860.4h.01M1063.3 858.7h.01M1073.9 854.0h.01M1068.1 863.6h.01M1062.3 869.7h.01M1065.9 870.7h.01M1066.3 874.0h.01M1072.6 871.3h.01M1052.6 872.0h.01M1069.4 878.9h.01M1082.3 864.9h.01M1086.6 869.6h.01M1095.3 868.7h.01M1095.9 872.0h.01M1090.7 880.9h.01M1088.7 883.6h.01M1145.7 870.7h.01M1157.4 869.7h.01M1125.4 879.1h.01M1133.0 881.6h.01M1133.0 884.3h.01M1130.7 892.9h.01M1122.7 902.7h.01M1129.7 907.6h.01M1130.7 920.9h.01M1113.7 916.3h.01M1124.1 930.9h.01M1154.7 908.7h.01M1160.1 910.3h.01M1161.7 926.7h.01M1158.1 932.4h.01M1074.1 893.6h.01M1076.7 897.3h.01M1079.3 900.9h.01M1084.7 903.6h.01M1083.7 907.3h.01M1067.4 901.6h.01M1057.7 904.3h.01M1050.3 908.7h.01M1067.0 911.6h.01M1090.3 915.6h.01M1090.6 920.3h.01M1089.0 923.7h.01M1091.4 925.3h.01M1095.0 928.3h.01M1097.0 923.3h.01M1099.4 924.0h.01M1093.7 937.3h.01M1102.3 933.3h.01M1105.0 936.3h.01M1107.4 937.3h.01M1113.0 939.3h.01M1116.1 935.6h.01M1114.1 943.3h.01M1104.3 946.0h.01M1101.3 950.3h.01M1104.6 952.7h.01M1095.9 953.7h.01M1110.3 953.3h.01M1116.1 954.4h.01M1121.7 957.1h.01M1126.3 956.7h.01M1127.9 955.3h.01M1131.4 957.3h.01M1136.3 955.1h.01M1141.3 955.7h.01M1138.3 962.3h.01M1138.3 969.3h.01M1141.0 975.1h.01M1140.1 979.1h.01M1141.0 981.1h.01M1142.3 945.3h.01M1149.4 945.1h.01M1155.7 945.6h.01M1151.3 953.1h.01M1155.9 952.4h.01M1164.6 950.7h.01M1150.3 968.3h.01M1155.7 971.7h.01M1159.3 974.7h.01M983.3 905.3h.01M978.7 902.7h.01M989.0 910.9h.01M993.0 908.9h.01M994.1 913.6h.01M996.1 915.7h.01M1001.3 917.3h.01M1005.3 919.6h.01M1009.7 922.4h.01M1011.9 921.6h.01M1016.1 923.3h.01M1022.1 924.7h.01M1025.3 928.0h.01M1033.4 927.6h.01M1036.7 930.0h.01M1045.4 934.0h.01M1045.4 939.6h.01M1056.1 937.6h.01M1061.9 939.6h.01M1071.0 939.3h.01M1074.7 944.4h.01M1069.9 946.7h.01M1077.3 947.3h.01M1083.3 948.0h.01M991.3 921.7h.01M980.3 930.7h.01M979.7 935.1h.01M979.9 937.7h.01M1002.7 936.7h.01M1001.9 940.7h.01M995.4 940.3h.01M998.1 942.3h.01M996.3 947.3h.01M1004.1 948.7h.01M987.0 947.3h.01M995.9 951.3h.01M990.6 952.9h.01M1014.1 954.4h.01M994.5 957.3h.01M995.1 958.9h.01M996.4 958.8h.01M997.5 960.5h.01M999.7 961.7h.01M1000.2 962.1h.01M1007.3 963.3h.01M1015.3 965.1h.01M1017.7 965.7h.01M1023.0 967.3h.01M1025.3 968.0h.01M1030.3 969.3h.01M1035.7 970.9h.01M1038.3 971.7h.01M1043.4 973.1h.01M1048.6 974.7h.01M1051.0 975.3h.01M1056.3 976.7h.01M1059.4 976.4h.01M1029.9 973.7h.01M1028.3 976.9h.01M1029.0 981.7h.01M1040.3 977.3h.01M1049.0 979.1h.01M1061.7 982.0h.01M1071.4 982.0h.01M1072.0 982.3h.01M1073.9 983.0h.01M1069.3 983.5h.01M1068.0 982.5h.01M1070.4 981.7h.01M1053.4 950.3h.01M1051.7 952.0h.01M1060.3 953.7h.01M1059.4 959.6h.01M1046.3 960.0h.01M1078.7 966.7h.01M1078.3 968.9h.01M1079.3 972.7h.01M1081.7 976.0h.01M1081.0 978.7h.01M1086.1 983.3h.01M1165.7 867.4h.01M1213.3 835.2h.01M1212.8 837.4h.01M1214.2 840.4h.01M1218.7 837.0h.01M1216.1 847.0h.01M1214.1 850.0h.01M1218.9 852.5h.01M1221.7 855.7h.01M1219.6 860.7h.01M1218.5 867.3h.01M1222.2 866.5h.01M1222.5 868.0h.01M1180.5 841.0h.01M1170.9 843.3h.01M1198.1 832.4h.01M1200.5 835.9h.01M1197.7 843.7h.01M1193.9 853.2h.01M1191.9 857.9h.01M1197.1 863.6h.01M1208.1 855.6h.01M1199.2 874.8h.01M1186.4 872.4h.01M1184.7 877.2h.01M1182.6 882.1h.01M1181.7 884.7h.01M1198.8 887.7h.01M1197.4 890.3h.01M1191.5 890.2h.01M1193.9 893.3h.01M1190.1 897.4h.01M1229.4 853.8h.01M1229.8 858.4h.01M1232.9 860.9h.01M1236.4 850.6h.01M1226.9 869.0h.01M1227.4 872.0h.01M1227.5 875.1h.01M1235.7 873.0h.01M1236.5 875.2h.01M1230.4 877.8h.01M1231.5 879.8h.01M1230.6 882.1h.01M1230.2 887.6h.01M1215.3 878.2h.01M1213.7 881.6h.01M1218.7 880.5h.01M1214.0 886.3h.01M1231.4 881.3h.01M1233.2 881.4h.01M1234.6 880.9h.01M1236.2 880.5h.01M1237.4 880.6h.01M1239.4 880.5h.01M1240.8 880.1h.01M1241.8 879.6h.01M1243.8 879.5h.01M1244.8 878.7h.01M1246.3 878.8h.01M1247.7 878.1h.01M1249.4 878.2h.01M1250.5 877.2h.01M1252.8 885.4h.01M1259.4 876.7h.01M1263.2 876.2h.01M1266.6 873.8h.01M1270.4 872.8h.01M1270.4 878.3h.01M1273.4 877.5h.01M1276.8 871.6h.01M1278.7 872.1h.01M1277.3 866.6h.01M1251.7 838.1h.01M1250.5 850.8h.01M1250.3 860.3h.01M1265.9 838.8h.01M1264.1 845.0h.01M1260.2 849.3h.01M1262.8 854.1h.01M1269.2 848.2h.01M1274.6 832.2h.01M1271.9 841.6h.01M1273.8 840.5h.01M1274.3 842.8h.01M1272.9 840.6h.01M1274.6 840.6h.01M1271.2 843.1h.01M1271.5 843.9h.01M1272.8 840.5h.01M1278.8 837.6h.01M1279.5 841.1h.01M1278.6 843.4h.01M1285.6 839.9h.01M1286.4 842.0h.01M1284.1 845.3h.01M1280.7 856.0h.01M1291.8 833.8h.01M1309.7 833.7h.01M1341.3 835.3h.01M1341.6 839.4h.01M1339.3 843.2h.01M1323.0 833.5h.01M1321.3 836.5h.01M1318.0 833.9h.01M1323.2 835.1h.01M1317.2 835.9h.01M1317.8 833.9h.01M1322.8 835.2h.01M1317.0 834.8h.01M1318.4 833.7h.01M1318.7 834.8h.01M1321.8 835.7h.01M1322.0 835.9h.01M1320.3 834.0h.01M1317.8 834.3h.01M1311.7 838.2h.01M1310.9 840.4h.01M1309.7 842.9h.01M1323.5 841.2h.01M1324.4 846.8h.01M1308.1 847.3h.01M1305.5 849.7h.01M1311.6 847.8h.01M1312.5 850.2h.01M1299.8 850.5h.01M1304.7 857.0h.01M1302.8 861.8h.01M1310.7 860.4h.01M1316.4 860.1h.01M1321.9 858.0h.01M1321.3 852.5h.01M1324.6 853.2h.01M1326.4 855.0h.01M1328.1 855.2h.01M1330.4 855.0h.01M1329.1 863.1h.01M1336.2 861.2h.01M1337.8 863.6h.01M1338.0 869.1h.01M1303.3 869.4h.01M1299.2 871.2h.01M1287.0 870.0h.01M1288.5 871.2h.01M1290.5 871.4h.01M1292.5 871.9h.01M1294.4 872.7h.01M1296.3 874.1h.01M1294.6 878.8h.01M1293.7 881.3h.01M1294.1 885.4h.01M1292.4 890.0h.01M1287.3 892.8h.01M1290.3 895.1h.01M1284.0 895.0h.01M1281.8 898.6h.01M1322.4 873.3h.01M1315.9 882.6h.01M1321.3 884.4h.01M1317.9 887.7h.01M1320.8 889.7h.01M1327.2 883.8h.01M1328.9 883.5h.01M1328.1 880.3h.01M1330.2 872.7h.01M1328.5 879.4h.01M1332.7 878.4h.01M1329.6 878.1h.01M1331.8 882.1h.01M1332.5 884.8h.01M1332.8 873.2h.01M1333.8 875.9h.01M1331.8 877.3h.01M1333.2 874.4h.01M1329.9 875.3h.01M1332.0 876.5h.01M1331.6 875.0h.01M1333.1 881.7h.01M1330.7 884.5h.01M1329.1 874.5h.01M1334.3 880.5h.01M1334.3 877.1h.01M1333.8 878.4h.01M1329.3 883.9h.01M1331.7 881.2h.01M1329.5 877.3h.01M1329.4 889.9h.01M1300.6 896.4h.01M1308.5 897.8h.01M1305.6 900.8h.01M1308.9 901.5h.01M1311.5 901.9h.01M1314.3 899.9h.01M1313.9 896.3h.01M1316.1 893.7h.01M1317.5 893.6h.01M1322.0 894.5h.01M1322.4 897.9h.01M1325.0 894.3h.01M1325.2 894.2h.01M1323.0 894.4h.01M1325.6 897.3h.01M1323.2 897.4h.01M1325.0 893.4h.01M1321.8 898.7h.01M1323.5 895.1h.01M1322.5 900.9h.01M1322.7 897.6h.01M1323.1 896.3h.01M1323.3 894.4h.01M1318.0 903.7h.01M1315.2 906.7h.01M1319.0 908.0h.01M1321.6 906.3h.01M1318.8 910.8h.01M1318.0 913.3h.01M1318.2 915.5h.01M1315.1 916.5h.01M1308.1 912.2h.01M1307.7 916.3h.01M1310.4 916.4h.01M1312.4 916.7h.01M1319.6 918.7h.01M1314.0 922.1h.01M1313.1 925.2h.01M1270.3 888.4h.01M1268.4 893.6h.01M1266.8 898.8h.01M1265.2 900.5h.01M1261.9 905.2h.01M1260.5 909.9h.01M1257.6 909.8h.01M1254.1 911.8h.01M1250.9 915.4h.01M1247.8 909.7h.01M1243.2 918.6h.01M1242.2 921.9h.01M1221.9 901.9h.01M1221.6 909.6h.01M1223.5 910.0h.01M1228.0 909.5h.01M1225.1 919.5h.01M1168.1 902.3h.01M1168.3 909.3h.01M1174.9 909.3h.01M1179.1 910.9h.01M1175.8 914.8h.01M1177.5 916.2h.01M1194.5 909.5h.01M1201.3 909.7h.01M1208.0 909.8h.01M1182.4 924.3h.01M1184.7 925.7h.01M1188.3 930.4h.01M1272.9 905.9h.01M1272.9 910.2h.01M1274.8 911.3h.01M1277.1 907.1h.01M1278.7 907.4h.01M1268.2 909.8h.01M1277.8 915.4h.01M1282.0 918.3h.01M1283.9 920.0h.01M1285.4 908.3h.01M1286.6 904.5h.01M1286.9 906.3h.01M1284.7 909.5h.01M1284.9 913.2h.01M1285.6 915.0h.01M1287.0 917.2h.01M1291.3 908.6h.01M1294.2 906.9h.01M1290.7 913.2h.01M1298.8 908.2h.01M1301.3 904.3h.01M1287.9 922.9h.01M1290.4 921.5h.01M1293.3 918.9h.01M1291.3 925.2h.01M1296.5 920.0h.01M1299.2 919.5h.01M1301.1 919.4h.01M1296.0 922.2h.01M1294.3 926.2h.01M1297.0 926.7h.01M1302.3 927.0h.01M1304.7 926.3h.01M1307.0 926.2h.01M1302.8 929.1h.01M1304.0 930.6h.01M1309.4 929.1h.01M1307.8 933.1h.01M1304.2 936.5h.01M1301.7 940.0h.01M1298.5 941.2h.01M1292.8 940.5h.01M1298.1 943.3h.01M1288.6 943.8h.01M1281.6 930.3h.01M1283.4 934.2h.01M1261.2 923.7h.01M1264.0 921.1h.01M1263.1 924.6h.01M1260.9 927.4h.01M1262.4 928.6h.01M1261.4 929.9h.01M1255.6 926.9h.01M1267.7 926.2h.01M1269.7 925.1h.01M1272.1 923.8h.01M1273.3 925.3h.01M1237.5 928.7h.01M1238.2 932.4h.01M1242.6 930.9h.01M1248.9 930.6h.01M1231.2 931.8h.01M1233.2 932.6h.01M1234.4 933.8h.01M1258.5 933.1h.01M1257.6 935.0h.01M1260.9 935.4h.01M1259.7 937.3h.01M1261.7 937.5h.01M1258.0 938.9h.01M1254.1 937.7h.01M1251.8 938.8h.01M1249.3 939.1h.01M1247.6 941.1h.01M1259.6 941.1h.01M1259.7 943.3h.01M1270.1 937.4h.01M1270.1 942.9h.01M1220.0 936.3h.01M1218.3 939.2h.01M1218.2 939.4h.01M1218.7 936.2h.01M1216.4 938.1h.01M1219.3 939.5h.01M1216.7 938.4h.01M1217.8 942.1h.01M1220.5 944.4h.01M1223.3 944.6h.01M1197.6 935.4h.01M1201.4 938.7h.01M1205.2 940.9h.01M1205.7 942.7h.01M1209.3 942.8h.01M1211.7 943.3h.01M1206.2 944.8h.01M1171.7 943.3h.01M1185.9 944.2h.01M1181.5 948.7h.01M1191.7 946.9h.01M1196.4 946.1h.01M1172.2 950.1h.01M1167.1 950.4h.01M1227.3 942.8h.01M1231.1 941.7h.01M1234.1 943.0h.01M1229.5 946.1h.01M1226.0 947.2h.01M1236.1 946.6h.01M1255.5 945.6h.01M1076.8 985.7h.01M1028.0 990.3h.01M1032.4 997.4h.01M1037.1 999.0h.01M1079.8 993.2h.01M1086.9 984.0h.01M1089.1 986.0h.01M1094.4 985.7h.01M1096.3 987.1h.01M1097.6 988.0h.01M1099.5 985.2h.01M1101.0 987.2h.01M1098.1 989.2h.01M1098.8 992.8h.01M1103.1 994.5h.01M1105.0 995.3h.01M1101.5 997.9h.01M1103.8 999.3h.01M1109.3 1000.3h.01M1110.4 1003.5h.01M1113.6 1001.3h.01M1117.1 1002.9h.01M1119.5 1003.2h.01M1121.7 1003.7h.01M1124.9 1004.3h.01M1126.1 1004.9h.01M1127.5 1005.8h.01M1128.6 1006.2h.01M1130.2 1007.1h.01M1131.0 1007.5h.01M1132.6 1008.7h.01M1133.5 1009.0h.01M1134.9 1009.9h.01M1136.0 1010.8h.01M1132.3 1013.8h.01M1132.5 1016.2h.01M1134.7 1017.0h.01M1132.4 1017.9h.01M1126.2 1018.4h.01M1125.5 1020.7h.01M1123.0 1021.1h.01M1120.8 1024.5h.01M1131.4 1025.3h.01M1143.1 1023.9h.01M1143.5 1012.2h.01M1153.1 1012.1h.01M1087.4 1003.5h.01M1093.7 1000.6h.01M1049.7 1003.9h.01M1058.0 1004.6h.01M1115.8 993.8h.01M1122.8 994.9h.01M1133.1 990.4h.01M1132.4 994.7h.01M1145.0 987.3h.01M1147.6 988.0h.01M1148.4 994.5h.01M1150.7 996.4h.01M1154.5 999.1h.01M1156.2 1000.8h.01M1155.0 992.0h.01M1219.5 950.9h.01M1221.6 953.6h.01M1226.6 953.5h.01M1222.1 955.4h.01M1225.3 956.7h.01M1221.4 958.5h.01M1223.9 960.8h.01M1212.4 960.2h.01M1215.7 960.7h.01M1211.4 964.0h.01M1214.0 964.7h.01M1206.0 964.9h.01M1217.9 966.9h.01M1219.8 967.6h.01M1235.7 948.5h.01M1239.0 952.0h.01M1240.3 951.9h.01M1245.9 948.9h.01M1254.7 947.7h.01M1256.7 947.4h.01M1227.6 964.9h.01M1227.9 967.1h.01M1222.7 969.5h.01M1225.2 970.2h.01M1228.0 969.8h.01M1229.2 971.6h.01M1231.5 972.1h.01M1230.7 974.0h.01M1234.1 973.2h.01M1236.4 973.4h.01M1234.4 976.9h.01M1234.6 978.7h.01M1243.8 976.0h.01M1245.8 976.3h.01M1242.3 978.7h.01M1241.2 979.6h.01M1245.6 979.1h.01M1247.3 979.6h.01M1250.7 977.2h.01M1253.3 978.1h.01M1255.6 978.8h.01M1258.0 979.3h.01M1259.6 979.0h.01M1258.4 981.1h.01M1258.9 982.6h.01M1257.6 984.9h.01M1256.5 988.0h.01M1270.5 975.3h.01M1270.1 975.7h.01M1265.9 980.3h.01M1270.6 975.4h.01M1264.2 977.3h.01M1267.3 977.0h.01M1263.3 976.3h.01M1269.1 980.4h.01M1262.3 978.5h.01M1268.0 978.1h.01M1268.4 976.4h.01M1266.2 978.4h.01M1266.2 979.0h.01M1266.5 977.4h.01M1262.1 978.9h.01M1267.1 976.0h.01M1256.5 972.6h.01M1262.7 974.1h.01M1263.5 971.9h.01M1265.4 968.4h.01M1267.1 964.6h.01M1269.3 960.0h.01M1264.7 959.0h.01M1262.6 956.9h.01M1267.5 954.2h.01M1271.0 956.2h.01M1272.7 952.4h.01M1275.4 947.6h.01M1284.6 948.9h.01M1282.5 955.2h.01M1294.1 945.9h.01M1294.5 950.5h.01M1298.6 949.4h.01M1284.4 959.6h.01M1283.9 961.9h.01M1288.5 958.6h.01M1280.9 965.4h.01M1275.6 965.8h.01M1276.0 970.3h.01M1272.3 973.0h.01M1193.6 970.2h.01M1185.6 982.2h.01M1189.6 982.8h.01M1194.3 983.7h.01M1208.2 984.1h.01M1203.0 987.2h.01M1204.0 988.0h.01M1207.3 992.1h.01M1208.8 993.0h.01M1207.7 995.6h.01M1209.2 997.1h.01M1207.5 998.0h.01M1218.6 997.7h.01M1158.0 1001.2h.01M1160.0 1001.9h.01M1162.1 1002.7h.01M1164.0 1003.8h.01M1166.0 1004.8h.01M1168.3 1005.5h.01M1170.4 1006.5h.01M1172.5 1007.8h.01M1174.5 1008.5h.01M1176.5 1009.6h.01M1178.8 1010.5h.01M1174.7 1013.1h.01M1187.6 1015.2h.01M1185.8 1016.0h.01M1182.8 1013.2h.01M1188.1 1011.9h.01M1189.1 1012.4h.01M1188.5 1011.8h.01M1185.9 1015.8h.01M1183.9 1012.7h.01M1186.1 1012.8h.01M1187.2 1015.6h.01M1183.4 1015.3h.01M1183.1 1014.0h.01M1187.1 1013.0h.01M1188.8 1013.8h.01M1191.8 1010.8h.01M1193.7 1009.2h.01M1197.5 1006.2h.01M1201.1 1003.7h.01M1203.0 1004.2h.01M1203.5 1010.2h.01M1208.7 1008.8h.01M1214.5 1007.1h.01M1223.4 1004.3h.01M1226.3 1004.4h.01M1232.3 1000.1h.01M1240.8 998.1h.01M1246.6 995.7h.01M1240.7 1003.0h.01M1230.3 1009.7h.01M1164.7 1026.2h.01M1176.5 1024.9h.01M1186.4 1024.5h.01M978.8 902.2h.01M973.7 905.0h.01M975.2 904.2h.01M975.9 905.9h.01M983.2 904.9h.01M977.4 906.9h.01M979.2 907.7h.01M980.5 908.4h.01M981.6 909.4h.01M982.8 909.7h.01M984.5 909.3h.01M986.1 908.8h.01M983.5 911.4h.01M983.0 912.9h.01M982.3 914.2h.01M981.6 915.4h.01M974.0 912.1h.01M973.1 915.5h.01M976.2 917.2h.01M977.0 918.0h.01M977.9 918.9h.01" stroke="#0000ff" stroke-width="3.5" stroke-linecap="round" fill="none"/>
<ellipse class="c" cx="1173.50" cy="828.85" rx="183.62" ry="185.18"/>
<rect class="a" x="868.30" y="598.00" width="610.40" height="461.70"/>
<path class="a" d="M944.60 1059.70v-6.0M944.60 598.00v6.0"/>
<path class="a" d="M1020.90 1059.70v-6.0M1020.90 598.00v6.0"/>
<path class="a" d="M1097.20 1059.70v-6.0M1097.20 598.00v6.0"/>
<path class="a" d="M1173.50 1059.70v-6.0M1173.50 598.00v6.0"/>
<path class="a" d="M1249.80 1059.70v-6.0M1249.80 598.00v6.0"/>
<path class="a" d="M1326.10 1059.70v-6.0M1326.10 598.00v6.0"/>
<path class="a" d="M1402.40 1059.70v-6.0M1402.40 598.00v6.0"/>
<path class="a" d="M868.30 674.95h6.0M1478.70 674.95h-6.0"/>
<path class="a" d="M868.30 751.90h6.0M1478.70 751.90h-6.0"/>
<path class="a" d="M868.30 828.85h6.0M1478.70 828.85h-6.0"/>
<path class="a" d="M868.30 905.80h6.0M1478.70 905.80h-6.0"/>
<path class="a" d="M868.30 982.75h6.0M1478.70 982.75h-6.0"/>
<text class="t" text-anchor="middle" transform="translate(868.3 1102.2) scale(1 1.12)">-0.8</text>
<text class="t" text-anchor="middle" transform="translate(944.6 1102.2) scale(1 1.12)">-0.6</text>
<text class="t" text-anchor="middle" transform="translate(1020.9 1102.2) scale(1 1.12)">-0.4</text>
<text class="t" text-anchor="middle" transform="translate(1097.2 1102.2) scale(1 1.12)">-0.2</text>
<text class="t" text-anchor="middle" transform="translate(1173.5 1102.2) scale(1 1.12)">0</text>
<text class="t" text-anchor="middle" transform="translate(1249.8 1102.2) scale(1 1.12)">0.2</text>
<text class="t" text-anchor="middle" transform="translate(1326.1 1102.2) scale(1 1.12)">0.4</text>
<text class="t" text-anchor="middle" transform="translate(1402.4 1102.2) scale(1 1.12)">0.6</text>
<text class="t" text-anchor="middle" transform="translate(1478.7 1102.2) scale(1 1.12)">0.8</text>
<text class="t" text-anchor="end" transform="translate(858.2 611.5) scale(1 1.12)">0.6</text>
<text class="t" text-anchor="end" transform="translate(858.2 688.5) scale(1 1.12)">0.4</text>
<text class="t" text-anchor="end" transform="translate(858.2 765.4) scale(1 1.12)">0.2</text>
<text class="t" text-anchor="end" transform="translate(858.2 842.4) scale(1 1.12)">0</text>
<text class="t" text-anchor="end" transform="translate(858.2 919.3) scale(1 1.12)">-0.2</text>
<text class="t" text-anchor="end" transform="translate(858.2 996.2) scale(1 1.12)">-0.4</text>
<text class="t" text-anchor="end" transform="translate(858.2 1073.2) scale(1 1.12)">-0.6</text>
<g transform="translate(1173.5 1134.4) scale(0.875)"><text class="m" x="-44.5" y="0.0" font-size="35" font-style="italic" textLength="25" lengthAdjust="spacingAndGlyphs">B</text><text class="m" x="-18.5" y="6.0" font-size="23.5" font-style="italic">z</text><text class="m" x="-5.5" y="0.6" font-size="37">(</text><text class="m" x="7.0" y="0.0" font-size="35" textLength="24.5" lengthAdjust="spacingAndGlyphs">G</text><text class="m" x="32.5" y="0.6" font-size="37">)</text></g>
<g transform="translate(790.6 828.9) rotate(-90)"><g transform="translate(0.0 0.0) scale(0.875)"><text class="m" x="-44.5" y="0.0" font-size="35" font-style="italic" textLength="25" lengthAdjust="spacingAndGlyphs">B</text><text class="m" x="-18.5" y="6.0" font-size="23.5" font-style="italic">x</text><text class="m" x="-5.5" y="0.6" font-size="37">(</text><text class="m" x="7.0" y="0.0" font-size="35" textLength="24.5" lengthAdjust="spacingAndGlyphs">G</text><text class="m" x="32.5" y="0.6" font-size="37">)</text></g></g>
</g>
</svg></body></html>
